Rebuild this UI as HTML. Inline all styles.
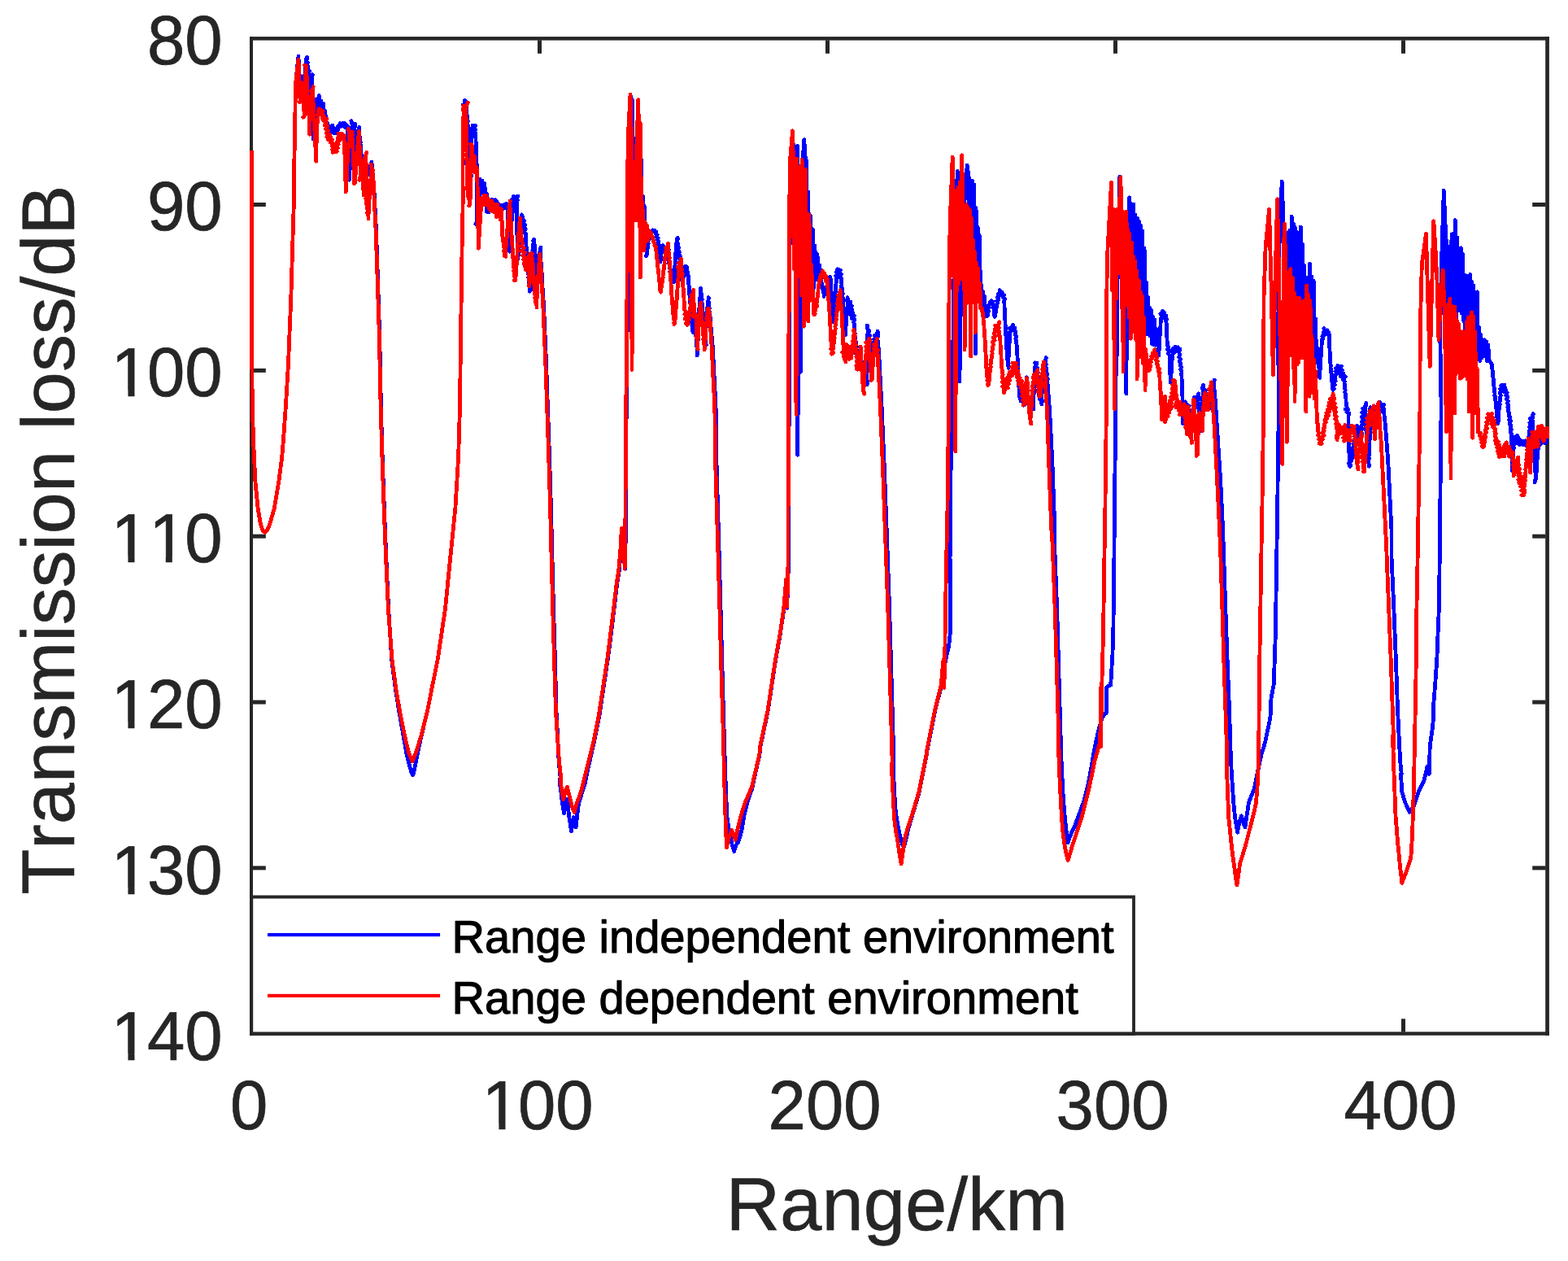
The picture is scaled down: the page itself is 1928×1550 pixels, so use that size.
<!DOCTYPE html>
<html lang="en">
<head>
<meta charset="utf-8">
<title>Transmission loss vs range</title>
<style>
html,body{margin:0;padding:0;background:#fff;overflow:hidden}
body{width:1928px;height:1550px}
svg{display:block}
text{font-family:"Liberation Sans",Arial,Helvetica,sans-serif;font-kerning:none;text-rendering:geometricPrecision}
.tick{font-size:83.3px;fill:#262626;stroke:#262626;stroke-width:0.7px}
.lab{font-size:92.3px;fill:#262626;stroke:#262626;stroke-width:0.6px}
.leg{font-size:56.1px;fill:#000;stroke:#000;stroke-width:1.1px;stroke-linejoin:round}
.ax{stroke:#262626;stroke-width:4.2;fill:none;shape-rendering:crispEdges}
.cv{fill:none;stroke-width:4.8;stroke-linejoin:round;stroke-linecap:butt;shape-rendering:crispEdges}
</style>
</head>
<body>
<svg width="1928" height="1550" viewBox="0 0 1928 1550">
<rect width="1928" height="1550" fill="#fff"/>
<!-- axes box -->
<g fill="#262626" id="axes">
<rect x="307" y="45.1" width="4" height="1227.6"/>
<rect x="1900.2" y="45.1" width="4.7" height="1227.6"/>
<rect x="307" y="45.1" width="1597.9" height="4.5"/>
<rect x="307" y="1268.3" width="1597.9" height="4.4"/>
</g>
<!-- ticks -->
<g fill="#262626" id="ticks">
<rect x="661.0" y="1252.3" width="5" height="16.2"/><rect x="1015.0" y="1252.3" width="5" height="16.2"/><rect x="1369.0" y="1252.3" width="5" height="16.2"/><rect x="1723.0" y="1252.3" width="5" height="16.2"/>
<rect x="661.0" y="49.4" width="5" height="16.4"/><rect x="1015.0" y="49.4" width="5" height="16.4"/><rect x="1369.0" y="49.4" width="5" height="16.4"/><rect x="1723.0" y="49.4" width="5" height="16.4"/>
<rect x="310.8" y="249.0" width="16" height="5"/><rect x="310.8" y="452.9" width="16" height="5"/><rect x="310.8" y="656.7" width="16" height="5"/><rect x="310.8" y="860.6" width="16" height="5"/><rect x="310.8" y="1064.4" width="16" height="5"/>
<rect x="1884.2" y="249.0" width="16.2" height="5"/><rect x="1884.2" y="452.9" width="16.2" height="5"/><rect x="1884.2" y="656.7" width="16.2" height="5"/><rect x="1884.2" y="860.6" width="16.2" height="5"/><rect x="1884.2" y="1064.4" width="16.2" height="5"/>
</g>
<!--CURVES-->
<g class="cv">
<path id="blue" stroke="#0000ff" d="M309.4 185.0L309.5 300.0L309.8 440.0L310.3 500.0L311.8 546.7L314.0 593.4L317.1 624.5L320.2 643.2L323.0 651.9L325.8 654.4L328.9 651.2L332.1 643.2L337.3 624.5L342.6 593.4L346.7 562.2L349.2 531.1L351.3 500.0L354.4 449.4L357.8 366.2L360.3 283.1L361.9 231.2L361.8 201.9L362.5 164.5L363.1 127.2L363.8 99.8L367.0 68.9L367.1 72.8L367.3 75.8L367.4 78.7L367.7 81.7L367.8 84.6L368.0 87.5L368.1 90.5L368.3 93.4L368.4 96.4L368.6 99.3L367.9 102.9L368.0 99.9L370.7 98.1L368.8 95.5L371.0 94.5L372.7 93.7L371.2 96.4L372.7 98.7L372.5 101.4L373.3 104.0L373.1 106.7L373.9 109.3L373.5 112.1L373.5 114.0L374.3 111.7L374.4 108.7L374.6 105.6L374.7 102.6L375.0 99.6L375.1 96.5L375.3 93.5L375.4 90.5L375.6 87.4L375.7 84.4L376.0 81.4L376.1 78.4L376.3 75.3L376.4 72.3L377.3 70.2L377.7 71.8L376.4 74.6L378.4 77.0L377.0 79.9L379.1 82.2L377.8 85.1L380.5 87.2L379.8 90.3L379.9 93.2L380.0 96.2L380.1 99.1L380.1 102.0L380.3 105.0L380.3 107.9L380.4 110.9L380.5 113.8L380.6 116.8L380.9 121.2L380.8 116.7L381.4 113.7L381.3 110.7L381.8 107.8L381.6 104.7L383.2 102.1L382.0 99.1L383.9 96.5L384.2 91.6L383.6 96.6L383.8 99.6L383.9 102.6L384.2 105.6L384.3 108.7L384.5 111.7L384.7 114.7L384.8 117.8L384.8 120.8L384.9 123.9L384.9 126.9L385.0 129.9L385.0 133.0L385.1 136.0L385.1 139.1L385.2 142.1L385.2 145.2L385.3 148.2L385.3 151.2L385.4 154.3L385.4 157.3L385.5 160.4L385.5 163.4L385.7 166.5L385.3 170.8L385.8 166.5L386.0 163.5L386.1 160.5L386.3 157.6L386.4 154.6L386.6 151.6L386.7 148.6L386.9 145.6L387.0 142.6L387.2 141.4L388.2 145.6L389.4 121.7L390.9 132.6L392.3 117.3L393.5 130.1L394.9 124.1L396.2 134.2L397.5 127.2L398.6 140.3L399.8 136.5L401.1 154.9L402.6 151.0L405.9 164.8L406.4 163.3L406.2 160.8L406.8 158.3L406.5 155.8L408.4 154.5L409.1 154.3L406.6 157.1L410.3 157.5L407.8 160.4L411.9 160.5L410.3 163.3L412.5 163.0L414.1 164.1L412.1 161.4L415.2 160.7L413.0 158.2L416.2 157.6L415.1 155.3L417.7 156.2L416.9 153.6L419.2 154.8L418.2 151.8L420.9 154.3L421.0 151.6L422.6 153.9L423.7 151.2L422.8 154.4L426.3 153.7L424.8 156.8L428.7 156.6L427.1 160.0L427.3 162.9L427.3 165.9L427.5 168.8L427.6 171.8L427.7 174.7L427.8 177.7L428.0 180.6L428.0 183.6L428.2 186.5L428.2 189.4L428.4 192.5L428.5 195.6L428.6 198.6L428.7 201.7L428.9 204.7L428.9 207.8L429.1 210.8L429.2 213.9L429.3 216.9L429.4 220.0L429.4 221.3L429.7 220.0L429.7 216.9L429.9 213.8L430.0 210.8L430.2 207.7L430.2 204.6L430.4 201.6L430.5 198.5L430.6 195.4L430.7 192.3L430.9 189.3L431.0 186.2L431.2 183.1L431.2 180.1L431.4 177.0L431.5 173.9L432.0 170.9L432.0 167.8L432.4 164.8L432.4 161.8L432.9 158.7L432.9 155.7L433.4 152.6L431.8 148.7L432.7 151.7L436.5 152.3L433.1 155.4L436.7 155.3L435.2 157.3L436.4 160.0L436.5 162.9L436.6 165.9L436.6 168.8L436.7 171.8L436.7 174.7L436.8 177.7L436.8 180.6L436.9 183.6L436.9 186.5L437.8 188.5L437.6 186.8L437.3 184.1L438.1 181.5L437.8 178.7L438.5 176.1L438.2 173.4L439.5 170.8L437.7 167.8L441.2 165.8L439.1 162.7L442.1 160.5L441.6 156.5L441.2 160.5L442.0 163.2L441.8 166.0L442.7 168.7L442.4 171.5L443.2 174.2L443.1 177.0L443.4 179.7L443.5 182.3L443.8 185.0L443.9 187.7L444.2 190.3L444.2 193.0L444.5 195.7L444.6 198.3L444.9 201.0L444.9 203.7L445.2 206.3L445.3 209.0L445.6 211.7L445.1 216.1L445.3 211.7L447.6 209.5L446.3 206.8L448.3 204.6L446.1 201.6L449.4 200.2L447.9 197.5L448.8 196.6L450.1 198.3L449.6 201.0L450.5 203.6L450.3 206.4L451.0 209.0L450.7 211.7L452.2 213.8L453.0 214.4L452.3 212.0L454.9 212.3L453.0 209.1L456.5 207.2L454.6 204.1L457.3 203.0L456.9 199.3L459.0 220.8L460.4 241.6L462.5 283.1L464.6 345.5L466.6 407.8L467.9 470.1L468.4 500.0L470.2 562.2L472.4 624.5L474.9 686.7L477.7 749.0L481.7 811.2L486.1 845.4L490.5 873.4L496.1 904.6L499.8 926.4L503.8 941.9L506.0 949.7L507.6 952.8L509.1 948.1L511.6 935.7L514.7 920.1L517.8 906.1L525.6 873.4L531.8 842.3L538.1 811.2L547.4 749.0L553.6 686.7L559.9 624.5L563.6 562.2L565.5 500.0L566.6 407.8L568.1 303.9L569.5 231.2L568.9 227.5L568.9 226.9L568.9 223.8L569.0 220.8L568.9 217.8L569.0 214.8L569.0 211.8L569.1 208.7L569.0 205.7L569.1 202.7L569.1 199.7L569.1 196.7L569.1 193.7L569.2 190.6L569.1 187.6L569.2 184.6L569.2 181.6L569.2 178.6L569.2 175.5L569.3 172.5L569.2 169.5L569.3 166.5L569.4 163.6L569.5 160.6L569.5 157.7L569.6 154.8L569.7 151.9L569.8 148.9L569.8 146.0L569.9 143.1L569.9 140.1L570.1 137.2L569.8 134.3L571.7 132.1L569.0 129.1L572.6 127.3L571.0 124.5L571.5 123.4L573.0 125.4L572.9 128.4L573.6 131.4L573.4 134.5L574.0 137.5L573.9 140.6L574.5 143.6L574.0 146.3L575.3 148.8L574.8 151.5L575.4 154.0L575.3 157.1L575.4 160.1L575.4 163.1L575.5 166.2L575.5 169.2L575.6 172.2L575.6 175.3L575.7 178.3L575.7 181.4L575.7 184.4L575.7 187.4L575.8 190.5L575.8 193.5L576.2 196.1L576.1 198.7L576.5 201.3L576.0 203.9L577.4 206.4L576.2 209.2L578.2 211.6L579.6 216.3L578.0 211.3L578.2 208.4L578.2 205.4L578.4 202.4L578.4 199.4L578.6 196.5L578.7 193.5L578.8 190.5L578.9 187.6L579.1 184.6L579.1 181.6L579.3 178.7L579.3 175.7L579.6 172.7L579.3 169.8L580.4 166.9L580.1 164.0L581.2 161.1L580.1 158.0L582.6 156.6L581.0 154.1L581.5 154.4L584.6 154.6L582.2 157.4L584.4 159.5L583.2 162.2L585.0 164.4L584.5 167.1L584.9 169.8L584.9 172.4L585.2 175.1L585.3 177.8L585.6 180.4L585.7 183.1L585.8 186.1L585.8 189.1L585.9 192.0L585.9 195.0L586.0 198.0L586.1 200.9L586.2 203.9L586.1 207.0L586.2 210.1L586.2 213.2L586.2 216.4L586.2 219.5L586.3 222.6L586.2 225.7L586.3 228.8L586.3 231.9L586.4 235.1L586.3 238.1L586.4 241.0L586.3 244.0L586.4 247.0L586.3 250.0L586.4 253.0L586.3 256.0L586.4 259.0L586.3 261.9L586.4 264.9L586.3 267.9L586.4 270.9L586.3 273.9L585.0 275.3L586.4 273.8L586.5 270.8L586.6 267.7L586.6 264.7L586.8 261.6L586.8 258.6L586.9 255.5L586.9 252.5L587.1 249.4L587.1 246.4L587.2 243.3L587.2 240.3L587.9 237.7L587.6 235.0L588.5 232.5L588.3 227.8L588.9 244.9L590.3 220.3L591.6 234.3L593.0 222.3L594.3 238.3L595.6 225.3L597.1 239.3L598.5 238.0L598.2 259.9L600.9 261.1L598.0 257.8L601.7 256.9L599.1 253.7L604.4 253.5L600.9 249.9L605.6 249.8L603.2 247.0L606.2 248.6L605.3 245.0L605.6 248.8L608.6 245.7L606.9 250.2L610.5 247.2L607.8 251.2L612.0 249.6L610.4 252.5L613.5 251.4L612.0 255.4L615.6 252.2L615.1 256.0L615.8 253.1L617.6 255.8L617.5 252.2L619.7 256.2L619.5 251.9L621.4 254.2L622.5 250.1L621.3 255.4L625.3 252.2L623.7 255.0L624.6 257.6L624.4 260.3L624.4 263.1L624.2 265.8L624.2 268.6L624.3 271.6L624.6 274.6L624.7 277.7L625.0 280.7L625.1 283.8L625.4 286.8L625.4 289.8L625.7 292.9L625.8 295.9L626.2 298.9L626.2 302.0L626.5 305.0L626.6 309.3L626.8 305.0L627.2 302.0L627.2 298.9L627.6 295.9L627.6 292.9L628.0 289.8L628.0 286.8L628.4 283.8L628.4 280.7L628.9 277.7L628.8 274.6L629.2 271.6L629.1 268.6L630.0 265.7L629.6 262.8L630.5 259.9L630.2 257.0L631.0 254.2L630.7 251.2L631.5 248.4L629.6 245.1L634.6 244.7L631.3 241.4L633.5 242.5L636.7 241.0L633.7 244.2L636.3 245.4L635.6 248.6L635.6 251.7L635.6 254.9L635.6 258.0L635.6 261.1L635.6 264.3L635.6 267.4L635.6 270.6L635.6 273.7L635.6 276.8L635.6 280.0L635.6 283.1L635.7 286.1L635.9 289.2L635.9 292.2L636.2 295.2L636.2 298.2L636.4 301.3L636.5 304.3L636.7 307.3L636.7 310.3L636.9 313.3L637.0 318.3L637.2 313.3L637.7 310.3L637.6 307.3L638.2 304.3L638.0 301.2L638.7 298.2L638.5 295.2L639.2 292.2L639.0 289.1L639.6 286.1L639.1 283.0L641.5 280.6L639.7 277.4L642.4 275.0L640.8 271.9L643.1 269.4L641.6 263.9L641.4 269.2L644.5 271.3L642.0 274.2L645.6 276.2L643.2 279.2L646.2 281.5L643.7 284.8L646.7 287.2L646.1 290.2L646.5 293.1L646.5 296.0L646.9 298.9L646.9 301.8L647.3 304.7L647.3 307.6L647.7 310.5L647.7 313.5L648.2 316.4L648.1 319.1L648.8 321.9L648.5 324.7L649.1 327.4L649.0 330.2L649.7 333.0L649.4 335.8L650.1 338.5L649.7 341.3L651.1 343.9L650.3 346.7L651.5 349.3L650.8 352.0L651.9 354.6L651.3 357.4L651.2 358.2L652.4 357.1L652.5 354.2L652.7 351.3L652.7 348.4L652.9 345.5L653.0 342.5L653.2 339.6L653.3 336.7L653.5 333.8L653.6 330.9L653.8 328.0L653.8 325.1L654.0 322.2L654.1 319.3L654.4 316.4L654.3 313.4L655.1 310.4L654.9 307.4L655.5 304.4L655.3 301.4L656.0 298.5L655.8 295.4L656.4 294.3L656.8 295.4L656.7 298.5L657.4 301.4L657.2 304.4L657.8 307.4L657.8 310.4L658.3 313.4L658.3 316.4L658.7 319.4L658.7 322.4L659.1 325.4L659.1 328.5L659.5 331.5L659.5 334.5L659.8 337.5L659.9 340.5L660.2 343.6L660.3 346.6L661.5 348.1L661.0 346.9L660.8 344.1L661.5 341.3L661.2 338.5L661.8 335.8L661.6 333.0L662.4 330.2L662.1 327.4L662.8 324.7L662.6 322.0L663.2 319.3L663.1 316.6L663.6 314.0L663.4 311.3L664.0 308.7L665.1 303.9L664.1 308.9L664.5 311.7L664.6 314.6L664.9 317.5L664.9 320.4L665.3 323.2L665.3 326.1L665.7 329.0L665.7 331.9L666.1 334.7L666.1 337.6L666.4 340.5L666.5 344.8L668.6 376.6L671.7 449.4L674.2 522.1L675.6 562.2L677.5 624.5L679.0 686.7L680.6 749.0L682.5 811.2L684.0 873.4L685.6 904.6L687.1 935.7L689.0 954.4L688.6 964.0L690.2 976.5L691.7 988.9L693.6 999.8L695.5 988.9L697.3 982.7L699.8 1004.5L702.6 1021.6L704.2 1010.7L705.1 1004.5L706.7 1012.3L708.2 1016.9L709.8 1001.4L711.3 988.9L715.4 974.9L719.1 964.0L723.2 943.8L730.6 911.1L736.9 880.0L742.5 842.3L747.2 811.2L751.2 780.1L755.0 749.0L758.7 717.8L761.2 702.3L763.4 677.4L764.9 649.4L766.2 686.7L767.4 655.6L768.7 699.2L769.6 630.7L769.9 562.2L770.2 500.0L770.8 467.8L771.6 322.3L771.9 224.5L772.7 170.0L775.5 118.7L777.3 123.3L778.3 177.8L778.6 266.4L779.8 181.4L780.9 269.5L782.1 177.2L783.2 260.7L784.2 140.6L785.2 259.1L786.1 161.7L787.1 278.0L788.0 187.0L789.2 272.5L790.4 240.8L791.4 284.9L792.3 253.4L793.7 288.0L793.9 291.1L794.2 293.9L794.3 296.7L794.6 299.5L794.8 302.3L794.9 305.4L795.0 308.5L795.1 311.6L794.6 315.1L795.4 312.2L795.7 309.8L795.8 307.3L796.2 304.8L796.1 302.3L797.2 299.6L796.8 296.8L797.7 294.1L797.4 291.3L799.0 289.8L798.5 287.6L800.5 286.3L800.3 284.1L802.1 284.6L802.5 282.8L803.7 283.4L804.9 283.3L804.7 285.1L806.7 284.8L806.0 287.3L808.1 288.7L807.0 291.1L809.1 292.5L808.5 294.7L809.9 296.9L809.6 299.5L810.5 301.9L810.2 304.5L811.0 306.9L810.8 309.8L811.6 312.5L811.4 315.4L812.2 318.1L811.8 321.9L812.5 318.5L812.9 316.0L812.9 313.5L813.3 311.0L813.2 308.5L814.3 306.0L813.5 303.2L815.1 301.7L816.0 302.6L815.6 305.1L817.8 306.4L817.8 308.4L819.3 306.2L819.8 308.6L822.3 307.3L820.9 310.8L822.3 313.7L821.6 316.8L823.0 319.6L822.3 322.7L823.6 325.5L823.0 328.6L824.5 331.2L823.8 334.0L825.5 336.5L824.5 339.3L826.3 341.8L825.3 344.7L826.7 346.8L828.5 346.8L827.0 343.8L829.6 343.3L829.1 340.3L829.3 337.5L829.4 334.6L829.6 331.8L829.7 328.9L829.9 326.1L830.0 323.3L830.2 320.5L830.3 317.6L830.5 314.8L830.5 311.9L831.1 309.0L830.9 306.0L831.7 303.1L831.5 300.1L832.1 297.1L832.1 294.1L833.2 292.5L833.3 293.8L832.6 296.6L833.6 299.2L833.1 301.9L834.4 304.5L833.9 307.2L835.4 309.8L834.1 312.5L836.4 314.7L835.2 317.4L836.8 319.7L835.9 322.4L837.0 325.1L836.9 327.9L837.5 330.6L837.4 333.4L837.9 336.2L837.8 339.0L838.4 341.7L838.3 344.5L839.1 346.2L839.9 344.9L838.9 342.2L841.1 340.0L839.0 337.1L842.3 335.2L840.0 332.1L843.4 331.1L841.2 327.8L843.4 327.4L845.0 329.2L843.8 332.2L846.1 334.7L844.9 337.7L846.9 340.2L846.1 343.2L846.7 346.1L846.7 349.1L847.2 352.0L847.2 355.0L847.7 357.9L847.6 360.9L848.2 363.9L848.1 366.7L848.7 369.4L848.6 372.2L849.2 375.0L849.0 377.8L849.6 380.5L849.6 383.3L850.0 386.0L849.9 388.9L850.6 391.8L850.5 394.8L851.2 397.7L850.9 400.7L851.9 403.6L851.6 406.7L852.6 408.6L852.8 406.9L852.3 404.0L853.4 401.3L852.9 398.5L853.8 395.8L853.0 391.2L853.6 395.6L854.9 397.9L854.3 400.5L855.7 402.9L855.1 405.5L855.6 408.5L855.7 411.5L856.0 414.5L856.1 417.5L856.4 420.5L856.5 423.5L856.9 426.5L856.9 429.6L857.3 432.6L857.3 436.8L857.5 432.6L857.7 429.6L857.8 426.6L857.9 423.6L858.0 420.6L858.2 417.6L858.2 414.6L858.4 411.6L858.5 408.6L858.6 405.6L858.7 402.6L858.9 399.6L859.0 396.7L859.1 393.7L859.2 390.7L859.4 387.7L859.5 384.7L859.7 381.8L859.8 379.0L860.1 376.2L860.2 373.3L860.5 370.5L860.5 367.7L860.9 364.8L860.9 362.0L861.3 359.2L861.3 356.3L861.5 354.5L862.1 356.3L861.9 359.2L862.5 362.1L862.4 365.0L863.2 367.8L862.8 370.7L863.5 373.5L863.4 376.4L864.0 379.3L864.0 382.2L864.3 385.1L864.4 388.0L864.8 390.9L864.8 393.8L865.2 396.7L865.2 399.6L865.6 402.5L865.6 405.5L866.2 408.2L866.0 411.0L866.6 413.8L866.6 416.5L867.1 419.3L868.3 423.9L867.3 419.1L867.5 416.0L867.6 413.0L867.8 410.0L867.9 407.0L868.1 403.9L868.2 400.9L868.4 397.9L868.5 394.9L868.7 391.9L868.8 388.8L869.4 386.1L869.0 383.3L869.8 380.7L869.7 377.9L870.3 375.2L870.2 372.4L870.8 369.8L871.3 365.5L870.9 369.9L871.8 372.7L871.6 375.7L872.2 378.5L872.0 381.5L872.8 384.3L872.7 387.2L873.4 390.1L873.4 394.8L876.3 426.2L878.4 467.8L880.1 499.8L881.2 577.8L883.7 661.8L886.1 749.0L888.6 842.3L890.8 920.1L890.6 911.1L891.5 942.2L892.8 979.6L894.0 1004.5L895.9 1016.9L898.1 1029.4L900.3 1038.7L902.7 1046.5L904.9 1038.7L907.4 1035.6L909.6 1029.4L912.1 1020.0L915.2 1001.4L919.9 982.7L924.5 970.2L929.2 948.5L933.9 928.2L934.7 918.6L944.0 875.0L948.7 843.9L953.4 812.8L959.0 781.6L963.6 750.5L965.2 731.8L966.7 713.2L967.7 747.4L969.2 702.3L969.9 593.4L970.2 500.0L970.2 426.2L971.1 322.3L971.2 240.0L972.2 193.4L974.5 162.2L976.5 208.9L978.8 196.5L980.4 179.4L981.2 240.0L980.6 559.2L984.0 240.0L984.4 457.4L986.6 208.9L988.7 171.6L990.2 193.4L991.3 196.5L992.0 312.9L993.8 235.7L995.0 334.7L996.5 265.5L997.8 352.5L999.2 281.7L1000.7 353.8L1001.9 302.2L1003.4 344.0L1005.0 312.7L1006.3 340.5L1007.8 326.0L1009.4 345.7L1010.1 346.7L1010.3 349.7L1011.5 351.9L1011.1 354.5L1012.4 356.7L1011.9 359.2L1013.4 361.4L1013.1 364.4L1013.1 361.5L1015.2 359.9L1015.2 357.5L1017.1 355.8L1016.1 353.0L1017.9 350.7L1016.9 348.0L1018.4 345.7L1017.9 342.9L1019.8 342.5L1019.6 340.6L1020.4 340.3L1021.2 343.0L1021.3 346.0L1021.6 349.0L1021.7 352.0L1022.0 354.9L1022.1 357.9L1022.4 360.9L1022.6 363.9L1022.8 366.9L1022.9 369.9L1023.1 373.0L1023.2 376.0L1023.4 379.0L1023.5 382.0L1023.7 385.1L1023.8 388.1L1024.0 391.1L1024.1 394.1L1024.6 396.0L1024.6 394.2L1024.6 391.3L1025.0 388.4L1025.0 385.5L1025.4 382.6L1025.4 379.7L1025.8 376.8L1025.8 373.9L1026.2 371.0L1026.2 368.0L1026.8 365.2L1026.7 362.2L1027.2 359.3L1027.1 356.4L1027.8 353.5L1027.6 350.6L1028.2 347.7L1028.2 344.8L1028.8 341.9L1027.7 338.8L1031.0 337.6L1028.4 334.7L1032.7 334.0L1029.6 330.9L1030.8 331.0L1033.3 332.2L1031.7 335.2L1034.3 337.5L1032.6 340.6L1034.9 343.0L1034.0 346.1L1035.1 349.0L1034.4 352.1L1035.6 354.9L1035.2 358.0L1036.2 360.9L1036.0 363.9L1036.3 366.8L1036.4 369.7L1036.6 372.6L1036.7 375.5L1036.9 378.4L1037.0 381.4L1037.2 384.3L1037.2 387.2L1037.4 390.1L1037.5 393.0L1038.0 395.9L1037.9 398.9L1038.4 401.9L1038.3 404.9L1038.9 407.8L1038.8 410.8L1039.5 412.0L1039.6 410.9L1039.5 407.9L1040.0 405.0L1040.0 402.1L1040.4 399.2L1040.4 396.3L1040.8 393.4L1040.8 390.5L1041.2 387.6L1041.1 384.7L1042.0 381.8L1041.4 378.7L1042.5 375.9L1042.0 372.9L1042.9 370.0L1042.1 365.7L1041.5 369.9L1045.9 371.2L1042.5 374.6L1047.2 375.9L1043.6 379.0L1047.5 380.3L1044.7 383.2L1048.9 384.3L1046.0 387.3L1050.4 388.4L1047.2 391.4L1050.7 392.8L1049.6 395.8L1050.3 398.5L1050.1 401.3L1050.8 404.0L1050.6 406.9L1051.2 409.6L1051.0 412.4L1051.7 415.1L1051.3 418.0L1053.0 420.7L1051.3 423.9L1053.6 426.5L1052.2 429.7L1055.3 432.2L1052.6 435.1L1056.4 436.2L1053.5 439.3L1057.5 440.4L1055.3 443.5L1058.7 443.1L1056.9 446.1L1060.2 445.2L1058.2 447.7L1062.4 449.1L1060.1 452.3L1063.0 454.2L1060.9 457.4L1065.3 459.0L1062.3 462.2L1065.3 464.2L1063.4 467.1L1066.3 469.2L1066.1 472.8L1065.2 468.9L1065.4 465.9L1065.4 462.8L1065.5 459.8L1065.5 456.7L1065.6 453.7L1065.6 450.6L1065.8 447.6L1065.8 444.5L1065.9 441.5L1065.9 438.4L1066.1 435.4L1066.1 432.3L1066.2 429.3L1066.2 426.2L1066.4 423.1L1066.5 420.0L1066.7 416.9L1066.7 413.8L1066.9 410.7L1067.0 407.5L1067.2 404.4L1066.4 400.1L1066.8 404.2L1068.7 406.7L1067.5 409.7L1069.6 412.3L1068.4 415.2L1070.0 417.8L1068.8 420.5L1070.5 422.8L1069.8 425.5L1071.1 427.8L1069.4 430.6L1073.2 432.0L1070.1 435.0L1071.9 435.0L1074.1 434.4L1071.5 431.5L1075.2 429.6L1072.5 426.6L1075.4 424.6L1073.3 421.7L1076.7 420.1L1074.8 417.3L1078.6 415.8L1075.1 412.6L1079.6 411.3L1079.2 407.0L1078.3 411.3L1079.2 414.0L1078.7 416.8L1079.5 419.5L1079.1 422.2L1080.0 424.9L1079.9 427.7L1080.4 428.6L1082.4 467.8L1084.1 499.8L1087.5 577.8L1090.6 661.8L1093.7 749.0L1096.8 857.9L1099.0 935.7L1098.2 942.2L1099.7 973.4L1101.3 998.3L1103.8 1013.8L1106.3 1026.3L1108.8 1035.6L1111.2 1041.8L1113.7 1032.5L1116.9 1018.5L1120.6 1006.0L1125.3 990.5L1129.9 974.9L1134.6 951.6L1139.3 928.2L1140.1 921.7L1149.4 875.0L1154.1 856.3L1157.2 843.9L1160.3 823.7L1163.4 808.1L1166.5 795.6L1168.1 780.1L1168.1 686.7L1168.7 593.4L1171.2 500.0L1171.6 462.3L1172.2 377.8L1174.3 273.9L1177.4 210.5L1178.6 315.5L1179.9 469.2L1181.6 357.0L1183.6 294.7L1186.8 232.3L1189.2 203.2L1191.5 219.9L1192.0 360.0L1193.3 241.5L1194.3 337.3L1195.4 222.1L1196.7 365.6L1197.7 226.8L1199.6 434.9L1200.1 255.6L1201.2 347.7L1202.3 279.3L1203.3 367.9L1204.4 289.4L1205.7 367.9L1206.6 350.2L1207.7 382.4L1208.6 358.5L1209.5 382.1L1210.6 364.3L1211.9 389.0L1213.8 388.7L1214.7 387.0L1214.1 384.6L1215.5 382.4L1214.8 380.0L1216.3 377.9L1215.7 375.4L1217.9 373.8L1217.5 371.4L1219.2 371.5L1218.9 369.8L1219.2 370.1L1221.1 371.4L1220.4 373.7L1222.1 375.5L1221.3 377.9L1222.3 380.2L1222.1 382.8L1222.7 385.2L1222.5 387.8L1223.1 389.6L1224.0 387.8L1223.6 385.2L1225.0 382.9L1224.0 380.2L1225.7 377.9L1224.9 375.2L1226.7 372.9L1225.7 370.2L1227.8 368.0L1226.4 365.1L1228.7 363.8L1227.6 361.4L1230.3 360.3L1229.1 356.7L1229.5 360.1L1232.2 359.5L1231.8 361.5L1234.6 362.8L1233.1 365.6L1235.4 367.3L1234.7 370.4L1234.9 373.3L1235.0 376.3L1235.2 379.3L1235.3 382.2L1235.5 385.2L1235.6 388.2L1235.8 391.1L1235.9 394.1L1236.0 397.1L1236.2 400.1L1236.4 403.0L1236.5 406.0L1236.6 409.0L1236.8 411.8L1237.1 414.7L1237.1 417.5L1237.4 420.4L1237.5 423.3L1237.8 426.1L1237.8 429.0L1238.1 431.8L1238.2 434.5L1238.5 437.2L1238.6 439.8L1238.9 442.5L1238.9 445.2L1239.2 447.8L1240.2 452.3L1239.5 447.7L1239.7 444.8L1239.8 441.9L1240.1 439.1L1240.1 436.2L1240.5 433.4L1240.5 430.5L1240.8 427.7L1240.9 425.0L1241.1 422.3L1241.2 419.6L1241.4 417.0L1241.5 414.3L1241.7 411.6L1241.3 408.9L1243.5 406.4L1241.3 403.2L1245.1 401.8L1245.6 399.6L1243.3 403.7L1246.4 401.7L1245.1 405.0L1248.1 403.0L1246.3 405.4L1248.9 407.7L1248.0 410.7L1249.6 413.5L1248.8 416.5L1249.9 419.3L1249.8 422.3L1250.2 425.3L1250.3 428.3L1250.7 431.2L1250.6 434.2L1251.0 437.2L1251.1 440.1L1251.3 443.1L1251.4 446.1L1251.6 449.0L1251.7 452.0L1251.9 455.0L1252.0 457.9L1252.2 460.9L1252.3 463.9L1252.5 466.8L1252.6 469.8L1252.8 472.8L1252.9 475.8L1253.1 478.7L1253.1 481.7L1254.1 484.1L1253.2 486.6L1254.4 489.0L1255.2 493.1L1254.2 488.6L1255.5 485.9L1254.9 483.1L1256.7 480.5L1255.3 477.5L1256.4 476.6L1257.6 477.5L1256.5 480.4L1257.9 483.1L1257.3 485.9L1258.6 488.6L1257.9 491.5L1259.3 494.1L1258.4 497.1L1258.9 498.1L1260.0 496.8L1259.8 493.8L1260.4 490.9L1260.2 487.9L1260.9 484.9L1260.7 481.9L1261.3 479.0L1261.1 476.2L1261.9 473.4L1261.7 470.6L1262.3 467.9L1262.1 465.1L1262.4 463.9L1262.9 465.2L1262.9 468.0L1263.3 470.8L1263.3 473.7L1263.6 476.5L1263.7 479.3L1264.0 482.2L1264.0 485.0L1264.4 487.8L1264.4 490.7L1264.9 493.5L1264.6 496.4L1265.5 499.2L1265.1 502.1L1266.0 504.9L1265.8 507.8L1266.5 510.6L1266.2 513.5L1266.5 514.3L1267.1 513.5L1267.0 510.5L1267.5 507.6L1267.4 504.7L1267.9 501.8L1267.9 498.9L1268.3 496.0L1268.3 493.1L1268.7 490.2L1268.8 486.0L1268.5 490.3L1269.8 493.1L1269.3 496.1L1270.6 498.9L1270.9 503.1L1270.6 498.8L1270.8 495.7L1270.8 492.7L1271.0 489.7L1271.0 486.6L1271.2 483.6L1271.2 480.6L1271.4 477.5L1271.5 474.5L1271.6 471.4L1271.7 468.4L1271.9 465.4L1271.9 462.3L1272.3 459.7L1272.3 457.0L1272.8 454.3L1272.6 451.6L1273.2 449.0L1273.0 446.3L1272.5 445.9L1275.1 446.4L1273.1 449.6L1275.6 452.2L1274.0 455.4L1276.3 458.1L1275.5 461.2L1276.5 464.1L1276.1 467.1L1277.1 470.0L1276.7 473.0L1277.7 475.9L1276.8 479.1L1279.3 481.5L1277.1 484.7L1280.1 487.1L1278.3 490.2L1281.4 492.6L1280.9 497.1L1280.4 492.6L1280.7 489.5L1280.8 486.5L1281.1 483.5L1281.1 480.5L1281.5 477.5L1281.5 474.4L1281.9 471.4L1281.9 468.4L1282.2 465.4L1281.9 462.3L1283.3 459.8L1282.0 457.0L1284.0 454.6L1282.8 451.8L1284.6 449.4L1283.9 446.7L1285.5 444.3L1286.3 439.5L1285.0 444.6L1286.3 447.5L1285.7 450.6L1287.0 453.5L1286.2 456.6L1287.5 459.5L1286.9 462.6L1288.2 465.5L1287.9 469.8L1290.6 503.9L1293.8 566.2L1296.9 649.4L1296.6 668.1L1299.7 749.0L1302.8 857.9L1305.0 935.7L1303.8 904.9L1305.4 942.2L1306.9 973.4L1308.5 995.1L1310.0 1010.7L1311.6 1026.3L1313.1 1035.6L1315.3 1029.4L1317.8 1023.2L1320.9 1016.9L1325.6 1004.5L1330.2 992.0L1333.4 982.7L1338.0 964.0L1342.1 942.2L1345.8 920.5L1350.5 898.7L1353.3 889.0L1354.8 882.8L1357.9 878.1L1360.1 876.6L1360.1 845.4L1363.2 842.9L1365.7 842.3L1366.6 826.8L1367.9 805.0L1368.8 780.1L1369.8 702.3L1370.4 624.5L1371.9 500.0L1372.1 462.3L1373.1 440.1L1374.4 315.5L1376.9 216.8L1379.0 273.9L1381.0 336.2L1383.1 419.4L1384.8 483.8L1385.8 357.0L1387.3 273.9L1388.7 242.7L1390.4 263.5L1390.5 370.3L1391.7 272.0L1392.7 398.1L1393.9 250.9L1394.9 363.3L1395.9 263.9L1397.0 402.5L1398.3 268.0L1399.2 370.2L1400.4 272.0L1401.6 364.2L1402.5 277.5L1403.6 402.8L1404.8 283.9L1406.0 389.8L1407.1 305.4L1408.1 410.7L1409.3 346.7L1410.5 410.8L1411.5 364.7L1412.5 406.8L1413.5 377.7L1414.3 413.1L1415.4 380.7L1416.4 422.6L1417.5 389.2L1418.5 423.9L1419.8 392.8L1420.8 424.3L1421.6 406.5L1422.7 406.6L1422.3 404.9L1422.8 405.1L1423.7 407.8L1423.8 410.9L1423.9 413.9L1424.0 416.9L1424.1 419.9L1424.2 422.9L1424.3 426.0L1424.4 429.0L1424.5 432.0L1424.6 435.0L1425.1 437.1L1424.9 435.1L1425.0 432.2L1425.2 429.3L1425.3 426.4L1425.5 423.5L1425.6 420.6L1425.9 417.7L1426.0 414.8L1426.2 411.9L1426.3 409.0L1426.6 406.0L1426.7 403.0L1427.0 400.1L1427.1 397.1L1427.4 394.1L1427.5 391.1L1428.9 388.4L1426.9 385.8L1429.9 385.0L1429.5 382.3L1429.9 384.5L1432.0 384.6L1430.5 386.7L1433.8 387.9L1431.5 390.6L1434.6 392.1L1433.7 394.5L1434.2 397.5L1434.3 400.7L1434.4 403.8L1434.5 406.9L1434.7 410.0L1434.8 413.1L1435.0 416.2L1434.9 419.4L1435.9 421.8L1435.3 424.4L1436.7 426.7L1435.5 429.4L1438.0 431.6L1436.5 434.7L1438.4 437.2L1438.0 440.2L1438.3 443.0L1438.4 445.9L1438.5 448.9L1438.6 451.8L1438.7 454.7L1438.8 457.6L1438.9 460.5L1439.0 463.4L1439.1 466.3L1439.1 470.2L1439.3 466.4L1439.8 463.5L1439.7 460.6L1440.2 457.8L1440.2 454.9L1440.6 452.1L1440.5 449.2L1441.0 446.4L1440.8 443.4L1441.8 440.6L1441.4 437.6L1442.5 434.8L1440.9 431.4L1445.3 432.4L1442.1 428.4L1445.9 429.6L1445.0 425.9L1445.8 429.5L1448.5 426.8L1447.7 431.0L1451.1 429.1L1449.4 432.7L1450.8 435.5L1449.7 438.6L1451.4 441.3L1450.4 444.4L1452.1 446.7L1451.2 449.3L1452.6 451.7L1451.7 454.3L1453.0 456.7L1452.8 459.7L1453.0 462.7L1453.1 465.7L1453.3 468.6L1453.4 471.6L1453.6 474.6L1453.7 477.5L1453.8 480.5L1453.8 483.5L1453.9 486.5L1453.9 489.6L1453.9 492.6L1453.9 495.6L1454.0 498.6L1453.9 501.6L1454.0 504.6L1454.0 507.6L1454.1 510.6L1454.1 513.6L1454.2 516.6L1454.1 519.6L1454.7 520.7L1455.4 519.8L1454.1 516.7L1455.9 514.0L1454.6 510.9L1457.3 508.2L1454.8 505.3L1458.2 503.3L1455.1 500.2L1459.4 498.4L1457.3 493.9L1455.8 498.7L1462.0 498.8L1458.2 502.6L1462.3 503.6L1461.0 506.9L1461.7 509.8L1461.5 512.8L1462.2 515.8L1462.0 518.8L1462.7 521.7L1462.1 524.7L1463.8 527.5L1462.9 530.6L1464.5 533.3L1463.7 536.4L1464.2 536.6L1464.9 536.2L1464.9 533.2L1465.5 530.2L1465.3 527.2L1465.8 524.2L1465.9 521.2L1466.4 518.2L1466.2 515.2L1467.3 512.3L1465.7 509.3L1468.6 507.0L1467.0 504.1L1469.8 501.8L1467.0 498.6L1470.2 496.4L1468.2 493.2L1472.9 492.5L1468.7 488.5L1474.3 488.3L1473.6 483.7L1472.5 488.1L1473.4 490.9L1473.0 493.8L1473.9 496.6L1473.4 499.5L1474.4 502.3L1473.9 505.2L1475.0 508.0L1474.6 510.9L1475.3 513.7L1475.0 516.7L1475.8 519.5L1475.5 522.4L1476.5 525.2L1476.0 528.1L1476.7 529.2L1476.8 528.1L1476.9 525.2L1477.1 522.4L1477.2 519.6L1477.4 516.7L1477.5 513.9L1477.7 511.1L1477.8 508.2L1478.0 505.4L1478.1 502.6L1478.3 499.7L1478.4 497.0L1478.7 494.2L1478.7 491.4L1479.0 488.7L1479.0 485.9L1479.3 483.1L1479.4 480.3L1479.6 477.6L1479.3 473.1L1478.3 477.8L1482.4 479.7L1479.6 482.9L1483.8 484.8L1481.3 488.0L1485.0 490.0L1480.9 493.5L1486.5 494.8L1482.2 498.2L1487.9 497.0L1484.0 500.7L1489.0 500.0L1486.0 503.2L1486.2 502.8L1488.9 501.0L1488.1 497.9L1489.4 495.0L1488.9 492.0L1490.1 489.1L1489.3 486.0L1491.1 483.2L1489.8 480.3L1492.7 478.0L1489.7 474.8L1492.6 472.4L1493.3 466.9L1492.3 472.6L1493.0 475.6L1492.8 478.6L1493.6 481.5L1493.3 484.6L1494.1 487.5L1493.7 490.5L1494.3 491.0L1496.4 524.7L1500.5 587.0L1503.6 649.4L1504.8 686.7L1506.9 749.0L1509.1 811.2L1511.6 873.4L1513.5 935.7L1512.3 911.1L1513.9 942.2L1515.4 967.1L1517.0 988.9L1518.5 1004.5L1520.1 1013.8L1521.6 1023.2L1523.8 1010.7L1526.3 1002.9L1528.5 1010.7L1531.0 1016.9L1533.2 1001.4L1535.6 985.8L1538.8 978.0L1541.9 970.2L1544.4 959.4L1546.5 948.5L1548.7 937.6L1551.2 926.7L1553.7 918.9L1555.9 911.1L1558.1 900.2L1560.5 889.3L1562.1 880.0L1563.0 857.9L1566.1 842.3L1567.3 811.2L1568.3 780.1L1569.5 702.3L1570.7 624.5L1572.3 500.0L1571.6 407.8L1572.9 303.9L1576.2 222.9L1577.9 268.6L1578.5 385.4L1579.5 289.7L1580.5 391.7L1581.6 292.3L1582.9 412.1L1584.0 285.6L1585.0 376.4L1586.0 283.4L1587.1 388.6L1588.2 266.2L1589.2 406.1L1590.5 275.5L1591.4 395.9L1592.4 279.5L1593.4 410.7L1594.6 285.1L1595.8 396.1L1597.0 290.0L1598.0 404.1L1599.3 278.9L1600.6 418.6L1601.5 300.5L1602.5 433.5L1603.6 326.0L1604.7 422.3L1606.0 341.4L1607.1 409.8L1608.2 341.1L1609.5 407.8L1610.4 324.3L1611.7 446.1L1613.0 340.0L1614.0 444.9L1615.2 345.0L1616.5 431.3L1617.7 391.8L1618.6 445.6L1620.5 427.9L1620.6 431.6L1620.8 434.6L1621.0 437.7L1621.2 440.7L1621.3 443.7L1621.5 446.8L1621.7 449.8L1621.9 452.8L1622.0 455.8L1622.2 458.9L1622.4 461.9L1622.8 464.3L1622.7 462.1L1622.9 459.2L1623.0 456.3L1623.2 453.4L1623.4 450.5L1623.5 447.6L1623.7 444.7L1623.8 441.8L1624.1 439.0L1624.2 436.0L1624.6 433.0L1624.6 430.0L1625.0 427.1L1625.1 424.1L1625.5 421.2L1625.2 418.1L1627.0 416.1L1625.8 413.5L1628.3 411.7L1626.9 409.0L1629.2 407.1L1627.8 403.6L1628.8 406.4L1631.6 405.8L1630.0 408.7L1633.6 408.2L1632.2 411.1L1634.9 411.7L1634.1 414.6L1634.3 417.3L1634.4 420.0L1634.6 422.6L1634.7 425.3L1634.9 428.0L1635.0 430.7L1635.2 433.3L1635.3 436.0L1635.5 438.7L1635.6 441.3L1635.8 444.0L1635.9 446.7L1636.2 449.3L1636.1 452.0L1636.7 454.7L1636.5 457.4L1637.2 460.0L1637.0 462.7L1637.7 465.4L1637.3 468.1L1638.7 470.5L1638.0 473.1L1639.0 475.5L1638.6 478.1L1639.2 479.2L1640.5 478.2L1639.0 475.4L1641.4 473.2L1639.6 470.3L1642.2 468.2L1641.2 465.7L1642.1 463.4L1641.4 461.0L1644.6 459.2L1641.9 456.5L1645.1 455.8L1642.5 452.7L1646.9 452.6L1644.8 449.5L1645.9 450.7L1649.5 450.1L1646.6 453.5L1650.4 454.9L1648.3 458.1L1651.8 459.2L1648.5 462.8L1654.5 462.9L1651.2 466.3L1653.2 468.6L1653.0 471.3L1653.8 474.0L1653.4 476.7L1654.2 479.3L1653.7 482.0L1654.6 484.7L1654.2 487.5L1655.0 490.2L1654.9 493.0L1655.5 495.7L1655.4 498.5L1656.5 501.2L1654.3 503.0L1657.8 503.5L1655.9 506.4L1658.7 507.9L1657.9 511.2L1658.0 514.3L1658.0 517.4L1658.1 520.5L1658.1 523.6L1658.2 526.8L1658.2 529.9L1658.3 533.0L1658.3 536.1L1658.4 539.2L1658.4 542.3L1658.5 545.5L1658.6 548.4L1658.7 551.3L1658.7 554.2L1658.9 557.1L1658.9 560.0L1659.0 562.9L1659.0 565.8L1659.2 568.7L1659.2 571.6L1660.0 573.4L1660.8 572.1L1658.3 569.1L1661.6 566.9L1660.0 564.0L1663.6 562.6L1660.3 559.6L1664.3 558.4L1661.6 555.5L1664.7 553.7L1662.6 550.7L1665.8 548.8L1663.9 545.9L1666.7 543.9L1664.9 541.0L1667.8 538.9L1665.2 535.7L1669.6 533.9L1667.2 530.7L1670.7 528.7L1668.5 523.3L1668.8 528.1L1670.2 530.3L1669.7 532.8L1670.7 535.0L1670.1 537.7L1671.3 540.2L1670.6 542.9L1671.6 543.7L1672.6 543.1L1670.5 540.2L1673.9 538.2L1671.3 535.2L1674.6 533.1L1673.4 530.0L1674.6 527.1L1673.8 524.0L1675.1 521.2L1674.5 518.1L1675.8 515.2L1674.4 512.1L1677.8 510.1L1674.7 507.1L1677.9 505.1L1675.6 502.2L1679.1 500.3L1680.0 495.4L1678.1 500.6L1678.4 503.5L1678.5 506.5L1678.8 509.4L1678.8 512.4L1679.1 515.3L1679.2 518.3L1679.5 521.2L1679.5 524.2L1679.8 527.1L1679.9 530.0L1680.2 533.0L1680.2 535.9L1680.6 538.7L1680.6 541.6L1681.1 544.5L1681.0 547.4L1681.5 550.2L1681.4 553.1L1682.0 556.0L1681.9 558.9L1682.3 561.7L1682.2 564.6L1682.7 567.5L1683.4 573.3L1682.9 567.4L1683.1 564.5L1683.1 561.6L1683.3 558.6L1683.4 555.7L1683.6 552.7L1683.6 549.8L1683.8 546.8L1683.9 543.9L1684.1 541.0L1684.1 538.0L1684.3 535.1L1684.4 532.0L1684.6 529.0L1684.7 526.0L1684.9 523.0L1685.0 520.0L1685.2 516.9L1685.3 513.9L1685.5 510.9L1685.6 507.9L1685.8 504.8L1685.0 500.8L1684.5 504.7L1688.8 506.3L1685.2 509.6L1689.3 511.2L1686.1 514.4L1689.6 514.4L1692.3 515.2L1689.3 511.7L1692.6 510.6L1690.4 507.4L1695.3 506.8L1691.8 503.2L1696.5 502.6L1693.7 498.8L1697.3 500.1L1695.6 496.7L1698.8 498.3L1696.5 494.3L1697.7 496.9L1701.9 497.7L1699.2 500.8L1701.8 502.9L1699.3 505.9L1701.5 505.3L1703.6 524.7L1706.7 566.2L1708.8 607.8L1710.9 649.4L1711.1 686.7L1713.9 749.0L1716.4 811.2L1718.6 873.4L1720.1 904.6L1721.7 935.7L1723.2 951.2L1722.4 951.6L1723.9 973.4L1727.0 984.3L1730.2 992.0L1733.3 998.3L1735.4 995.1L1737.9 992.0L1741.0 982.7L1744.2 973.4L1747.3 967.1L1750.4 960.9L1752.9 951.6L1755.0 942.2L1757.2 951.6L1757.8 932.9L1758.2 917.3L1759.7 906.5L1761.3 895.6L1762.8 880.0L1762.1 873.4L1764.6 842.3L1766.8 811.2L1768.0 780.1L1769.3 749.0L1770.2 686.7L1770.8 624.5L1772.1 500.0L1770.7 407.8L1772.4 324.7L1775.3 234.3L1777.4 283.1L1777.5 386.8L1778.4 294.9L1779.6 386.1L1780.5 310.5L1781.8 388.4L1783.0 303.1L1783.9 377.9L1785.0 288.2L1786.3 394.7L1787.2 286.9L1788.2 392.4L1789.3 270.6L1790.6 395.3L1791.5 291.6L1792.7 372.8L1793.9 305.0L1794.9 382.1L1796.2 304.7L1797.4 385.0L1798.6 312.4L1799.8 394.6L1800.8 337.7L1801.7 417.8L1802.8 338.9L1803.8 404.9L1805.1 346.8L1806.4 398.1L1807.6 337.5L1808.6 411.0L1809.7 346.5L1810.6 426.6L1811.9 351.0L1813.1 433.3L1814.1 360.5L1815.3 413.0L1816.3 358.7L1817.5 431.2L1818.7 402.4L1819.7 443.6L1821.0 411.5L1821.9 440.1L1823.1 417.7L1824.2 437.7L1825.4 417.9L1826.5 438.1L1827.6 419.7L1828.6 444.0L1829.8 424.3L1831.1 442.1L1834.5 448.8L1834.6 452.1L1835.1 454.9L1835.1 457.7L1835.7 460.4L1835.7 463.2L1836.4 466.0L1836.3 468.9L1836.9 471.8L1836.8 474.7L1837.5 477.6L1837.4 480.5L1838.1 483.2L1837.8 485.9L1838.7 488.5L1838.5 491.2L1839.4 493.8L1839.2 496.6L1839.9 499.2L1839.8 502.0L1840.4 504.8L1840.3 507.6L1840.9 510.4L1840.8 513.2L1841.4 516.0L1841.3 518.8L1841.9 520.4L1842.1 518.8L1842.1 516.1L1842.5 513.4L1842.5 510.6L1842.9 507.9L1842.9 505.2L1843.3 502.5L1843.1 499.7L1844.2 497.0L1843.6 494.1L1844.9 491.5L1844.2 488.6L1845.5 486.0L1844.3 483.0L1846.4 480.9L1844.8 478.3L1847.7 476.5L1845.7 473.7L1848.0 472.9L1850.0 472.9L1847.4 475.7L1850.6 476.7L1848.0 479.7L1851.8 479.5L1850.5 482.3L1853.1 482.8L1851.7 485.7L1853.8 488.0L1852.6 490.7L1854.4 493.0L1853.4 495.6L1854.7 498.0L1853.9 500.6L1855.1 503.0L1854.2 505.7L1856.0 508.0L1855.1 510.6L1856.7 512.9L1855.7 515.6L1857.6 517.9L1856.0 520.6L1857.8 522.9L1857.0 525.6L1858.2 528.0L1857.2 530.6L1858.5 533.0L1858.4 536.0L1858.6 539.1L1858.6 542.1L1858.7 545.2L1858.7 548.2L1858.8 551.3L1858.8 554.4L1858.9 557.4L1858.9 560.5L1859.1 563.5L1859.1 566.6L1859.2 569.6L1859.2 572.7L1859.3 575.7L1859.3 578.8L1861.0 580.4L1859.6 579.0L1859.7 576.2L1859.9 573.4L1860.0 570.6L1860.2 567.8L1860.3 565.0L1860.5 562.2L1860.6 559.4L1860.8 556.6L1860.8 553.8L1861.3 551.1L1861.0 548.4L1861.8 545.8L1861.6 543.1L1862.3 540.4L1862.0 537.7L1864.2 536.6L1865.8 535.4L1862.5 539.0L1867.3 538.5L1863.2 542.8L1868.6 540.7L1865.5 544.7L1870.3 542.7L1868.4 546.7L1868.9 543.0L1872.0 546.6L1870.8 541.8L1872.8 545.1L1875.4 541.9L1873.5 547.0L1876.9 543.0L1877.1 548.1L1878.1 542.9L1880.9 546.2L1879.2 542.5L1880.4 539.6L1879.8 536.5L1880.7 533.6L1880.1 530.6L1881.4 527.7L1880.7 524.6L1882.8 522.4L1880.9 519.6L1883.5 517.6L1881.3 514.7L1885.0 512.8L1885.2 508.5L1883.8 513.1L1884.1 516.0L1884.2 519.0L1884.5 521.9L1884.5 524.9L1884.8 527.8L1884.9 530.7L1885.2 533.7L1885.2 536.6L1885.5 539.6L1885.6 542.5L1885.9 545.5L1886.0 548.5L1886.3 551.5L1886.3 554.6L1886.6 557.6L1886.6 560.7L1887.0 563.7L1887.0 566.8L1887.3 569.8L1887.4 572.9L1887.7 575.9L1887.7 579.0L1888.1 582.0L1888.1 585.1L1888.4 588.1L1887.0 593.0L1888.6 588.4L1888.9 585.6L1888.9 582.9L1889.2 580.1L1889.3 577.3L1889.6 574.5L1889.6 571.8L1889.9 569.0L1889.9 566.2L1890.4 563.3L1890.3 560.3L1890.9 557.3L1890.7 554.3L1891.4 551.4L1891.2 548.4L1894.2 546.0L1890.3 542.8L1895.3 543.4L1892.7 540.2L1896.7 540.2L1892.9 536.3L1897.8 536.8L1895.6 533.8L1896.8 535.7L1900.2 534.6L1897.3 537.5L1900.7 538.9L1897.4 542.2L1901.9 542.1L1899.7 544.9L1902.0 543.6"/>
<path id="red" stroke="#ff0000" d="M309.4 185.0L309.5 300.0L309.8 440.0L310.3 500.0L311.8 546.7L314.0 593.4L317.1 624.5L320.2 643.2L323.0 651.9L325.8 654.4L328.9 651.2L332.1 643.2L337.3 624.5L342.6 593.4L346.7 562.2L349.2 531.1L351.3 500.0L354.4 449.4L357.8 366.2L360.3 283.1L361.9 231.2L361.8 201.9L362.5 164.5L363.1 127.2L363.8 99.8L367.0 72.9L367.1 77.9L367.3 80.8L367.3 83.8L367.5 86.8L367.6 89.8L367.8 92.8L367.8 95.8L368.0 98.8L368.1 101.8L368.3 104.8L368.3 107.6L368.5 110.4L368.6 113.2L368.8 116.0L368.8 118.8L369.0 121.6L369.1 124.4L368.6 125.7L369.4 124.3L369.5 121.4L369.6 118.5L369.7 115.5L369.9 112.6L369.0 109.0L370.0 112.2L370.5 114.7L370.4 117.2L368.9 118.1L370.9 116.9L371.0 114.0L371.1 111.2L371.2 108.3L371.4 105.5L371.5 102.6L370.4 101.1L371.7 102.8L371.8 105.9L371.9 108.9L372.0 112.0L372.1 115.0L372.2 118.0L372.3 121.1L372.4 124.1L373.5 126.4L373.3 124.7L372.6 122.1L372.0 121.2L373.6 122.6L373.6 125.5L373.7 128.4L373.7 131.3L373.8 134.2L373.9 137.1L374.0 140.0L374.0 142.9L372.8 144.1L374.2 142.8L374.2 139.8L374.3 136.8L374.4 133.8L374.5 130.8L374.5 127.8L374.6 124.8L374.6 121.8L374.8 118.8L374.8 115.8L374.9 112.7L374.9 109.7L375.1 106.8L375.2 103.9L375.4 101.0L375.4 98.1L375.6 95.2L375.7 92.3L376.0 89.6L376.0 86.8L376.3 84.1L376.3 81.3L374.7 80.1L376.7 81.7L376.8 84.8L377.0 87.9L377.0 91.1L377.2 94.2L377.2 97.3L377.4 100.4L377.4 103.5L377.6 106.6L377.7 109.7L377.9 112.6L377.9 115.6L378.1 118.5L378.2 121.4L378.4 124.3L378.4 127.2L378.6 130.2L378.7 133.2L378.9 136.1L379.0 139.1L379.2 140.1L379.4 139.1L379.4 136.1L379.6 133.2L379.7 130.2L379.6 128.6L379.9 130.2L379.9 133.2L380.0 136.2L380.0 139.2L380.0 142.3L380.0 145.3L380.1 148.3L380.1 151.3L380.2 154.3L380.2 157.3L380.3 160.4L380.3 163.4L380.7 165.3L380.4 163.4L380.5 160.5L380.6 157.5L380.7 154.5L380.8 151.5L380.9 148.6L381.0 145.6L381.1 142.6L381.2 139.6L381.2 137.1L381.8 134.7L381.7 132.1L382.2 129.7L382.1 127.2L382.6 124.7L382.4 122.2L382.9 119.7L382.8 117.2L383.8 114.8L382.6 112.1L384.7 109.9L385.2 106.5L384.5 110.3L384.7 113.3L384.7 116.4L384.9 119.4L385.0 122.5L385.1 125.5L385.2 128.6L385.4 131.6L385.4 134.6L385.6 137.7L385.6 140.7L385.8 143.8L385.8 146.8L386.0 149.9L386.1 152.9L386.2 156.0L386.3 159.0L388.4 161.0L386.8 159.6L386.7 157.1L387.1 154.6L388.4 151.4L387.2 155.0L387.4 158.0L387.4 161.0L387.5 163.9L387.5 166.9L387.7 169.8L387.7 172.8L387.8 175.7L387.8 178.7L388.0 181.7L388.0 184.6L388.1 187.6L388.2 190.5L388.3 193.5L388.3 196.4L388.8 198.1L388.5 196.5L388.6 193.6L388.7 190.7L388.7 187.8L388.9 184.9L388.9 182.0L389.0 179.1L389.1 176.2L389.2 173.3L389.2 170.3L389.4 167.4L389.4 164.5L389.6 161.6L389.7 158.7L390.0 155.8L390.0 152.9L390.3 150.0L390.2 147.1L391.1 144.3L390.6 141.3L391.6 138.5L391.3 135.6L392.5 133.7L394.2 134.6L391.2 137.8L395.6 138.0L395.7 140.6L397.1 136.5L394.4 141.0L397.8 142.1L396.4 145.1L399.2 144.4L397.5 147.5L402.0 146.1L398.9 149.5L401.7 151.2L399.3 154.0L402.8 155.6L400.6 158.6L403.4 160.6L401.2 163.6L405.5 165.2L401.9 168.3L406.9 168.7L403.8 171.9L406.8 172.7L406.0 175.0L408.6 171.9L406.8 175.3L409.9 176.4L408.2 179.1L410.8 180.8L408.7 183.7L413.1 184.0L409.2 187.4L411.1 186.2L414.4 186.4L412.0 183.5L415.5 181.9L412.9 179.0L416.1 177.3L414.2 174.5L417.6 173.0L415.0 170.0L418.2 168.4L415.9 164.1L416.3 168.2L420.6 167.0L420.1 171.1L418.5 167.0L423.5 167.4L420.1 164.0L420.5 164.6L422.8 166.2L422.9 169.2L423.1 172.1L423.2 175.1L423.4 178.0L423.5 180.9L423.7 183.9L423.7 186.8L423.9 189.8L424.0 192.7L424.2 195.7L424.2 198.6L424.3 201.6L424.4 204.6L424.5 207.6L424.5 210.6L424.7 213.6L424.7 216.5L424.8 219.5L424.9 222.5L425.0 225.5L425.0 228.5L425.2 231.4L425.2 234.4L425.2 235.9L425.5 234.4L425.6 231.4L425.8 228.4L425.9 225.4L426.1 222.4L426.2 219.4L426.4 216.4L426.5 213.4L426.6 210.4L426.7 207.4L426.9 204.4L427.0 201.4L427.2 198.4L427.3 195.4L427.5 192.4L427.6 189.4L428.2 186.5L428.0 183.4L428.5 180.5L428.5 177.5L429.0 174.5L429.0 171.5L429.6 168.5L429.5 165.5L430.1 162.6L428.1 158.3L429.1 161.7L433.3 162.2L429.6 165.5L433.6 165.1L432.3 167.2L433.4 169.9L433.5 172.8L433.7 175.7L433.7 178.6L433.9 181.6L434.0 184.5L434.2 187.4L434.2 190.3L434.4 193.2L434.5 196.1L434.7 199.0L434.7 201.9L434.9 204.8L435.0 207.7L435.2 210.6L435.3 213.5L435.5 216.4L435.6 219.3L435.8 222.2L435.9 225.1L435.7 225.5L436.4 225.1L436.4 222.1L436.8 219.1L436.9 216.2L437.3 213.2L437.2 210.2L437.7 207.3L437.7 204.3L438.1 201.3L438.1 198.3L438.5 195.4L438.6 192.4L439.0 189.5L438.8 186.4L439.6 183.5L439.3 180.5L440.1 177.6L440.0 174.5L440.8 171.6L440.6 168.6L441.3 165.7L441.3 161.4L441.5 165.6L441.7 168.6L441.7 171.6L441.9 174.6L442.0 177.5L442.2 180.5L442.3 183.5L442.5 186.5L442.6 189.4L442.7 192.4L442.7 195.4L442.8 198.4L442.8 201.4L442.9 204.4L442.9 207.4L443.0 210.4L443.1 213.4L443.2 216.3L441.9 221.5L443.3 216.5L443.7 213.6L443.7 210.8L444.0 207.9L444.1 205.1L444.3 202.3L444.7 197.0L444.1 202.4L445.5 205.2L445.3 208.1L445.7 211.1L445.8 214.2L446.0 217.2L446.1 220.3L446.3 223.3L446.4 226.3L446.7 229.3L446.8 232.4L447.0 235.4L447.2 239.7L447.2 235.4L447.3 232.4L447.3 229.3L447.4 226.3L447.4 223.2L447.6 220.2L447.6 217.1L447.7 214.1L447.7 211.0L447.8 208.0L447.8 204.9L448.0 201.9L447.9 199.4L449.1 197.0L448.1 194.3L449.6 192.0L450.7 187.4L449.5 192.2L449.9 195.0L449.9 197.9L450.2 200.6L450.3 203.5L450.6 206.2L450.7 209.1L451.0 211.9L450.8 214.8L450.8 217.8L450.6 220.8L450.6 223.7L450.5 226.7L450.4 229.7L450.3 232.6L450.2 235.6L450.1 238.6L450.1 241.6L449.8 244.5L451.0 247.3L450.5 250.3L451.8 253.0L451.3 256.0L452.3 258.8L451.7 261.8L452.8 264.6L453.1 268.9L452.9 264.5L453.2 261.5L453.2 258.4L453.6 255.4L453.6 252.4L453.9 249.4L454.0 246.3L454.3 243.3L454.4 240.3L454.7 237.2L454.7 234.2L455.1 231.2L455.1 228.2L455.7 225.2L455.6 222.2L456.2 219.2L456.1 216.1L456.8 213.2L456.6 210.1L457.2 207.2L456.4 202.1L457.3 207.0L458.4 209.6L457.9 212.5L458.7 215.2L458.2 218.1L459.0 219.4L460.0 241.6L462.1 283.1L464.2 345.5L466.2 407.8L467.5 470.1L468.1 500.0L469.9 562.2L472.1 624.5L474.6 686.7L477.4 749.0L482.1 811.2L486.7 845.4L491.4 873.4L497.6 904.6L502.9 926.4L507.0 935.7L511.6 924.8L517.8 904.6L525.6 873.4L531.8 842.3L538.1 811.2L547.4 749.0L553.6 686.7L559.9 624.5L563.6 562.2L565.5 500.0L566.6 407.8L568.1 303.9L569.5 231.2L568.9 228.4L568.9 226.9L568.9 223.8L569.0 220.8L568.9 217.8L569.0 214.8L569.0 211.8L569.1 208.7L569.0 205.7L569.1 202.7L569.0 199.7L569.1 196.7L569.1 193.7L569.2 190.6L569.1 187.6L569.2 184.6L569.2 181.6L569.3 178.6L569.2 175.5L569.3 172.5L569.2 169.5L569.3 166.5L569.4 163.6L569.5 160.6L569.5 157.7L569.6 154.8L569.6 151.9L569.8 148.9L569.8 146.0L569.9 143.1L570.0 140.1L570.1 137.2L568.9 134.1L573.1 133.5L569.6 130.2L573.8 129.9L575.2 126.1L572.8 130.4L572.9 133.3L572.9 136.2L573.0 139.1L573.0 142.0L573.1 144.9L573.1 147.8L573.2 150.7L573.2 153.6L573.4 156.5L573.4 159.4L573.5 162.3L573.5 165.5L573.6 168.6L573.6 171.7L573.7 174.8L573.7 177.9L573.9 181.0L573.9 184.2L574.0 187.3L574.0 190.4L574.1 193.5L574.1 196.4L574.2 199.3L574.2 202.2L574.3 205.0L574.3 207.9L574.5 210.8L574.5 213.7L574.6 216.6L574.6 219.5L574.7 222.5L574.7 225.5L574.8 228.4L574.8 231.4L574.9 234.4L574.9 237.4L575.0 240.4L576.7 245.1L575.1 240.3L575.2 237.1L575.2 234.0L575.3 230.9L575.4 227.8L575.5 224.7L575.5 221.6L575.6 218.4L575.7 215.3L575.8 212.2L575.8 207.1L575.9 212.2L576.1 215.3L576.1 218.4L576.3 221.6L576.3 224.7L576.5 227.3L576.6 229.9L576.8 232.5L576.8 235.1L577.1 237.7L577.1 240.4L577.4 243.1L577.4 245.8L577.7 248.4L577.7 251.1L576.8 253.0L578.0 250.8L578.0 247.8L578.1 244.8L578.1 241.8L578.3 238.8L578.3 235.8L578.4 232.9L578.4 229.9L578.5 227.0L578.5 224.1L578.6 221.2L578.6 218.3L578.8 215.4L578.8 212.6L578.9 209.7L578.9 206.8L579.0 203.9L579.0 201.0L579.2 198.2L579.2 195.3L579.4 192.5L579.4 189.6L579.6 186.8L579.7 183.9L579.8 181.0L579.9 178.2L578.8 177.0L580.2 178.4L580.2 181.4L580.5 184.4L580.5 187.4L580.7 190.5L580.8 193.5L581.2 196.1L581.1 198.7L581.5 201.3L581.6 205.3L581.7 201.3L582.2 198.7L582.0 196.1L583.2 193.6L580.8 191.1L581.8 191.0L583.3 191.8L583.4 194.3L583.6 196.8L583.6 199.3L584.0 201.8L584.0 204.6L584.4 207.3L582.7 211.4L583.8 207.9L585.9 206.1L583.8 203.0L583.6 204.8L586.4 207.0L586.4 210.1L586.6 213.2L586.6 216.4L586.8 219.5L586.8 222.6L587.0 225.7L587.0 228.8L587.2 231.9L587.2 235.1L587.3 238.1L587.3 241.2L587.4 244.3L587.4 247.4L587.5 250.5L587.5 253.6L587.6 256.6L587.6 259.7L587.7 262.8L587.7 265.9L587.8 269.0L587.8 272.0L587.9 275.1L587.8 278.2L587.9 281.3L587.9 284.4L588.0 287.4L588.0 290.5L588.1 293.6L588.1 296.7L588.2 299.8L588.2 305.3L591.5 253.8L592.7 243.0L593.8 250.5L595.1 239.9L596.3 252.0L597.4 240.0L598.6 251.5L599.9 244.2L601.1 256.4L602.1 246.6L603.2 259.1L604.6 246.8L606.1 259.7L607.4 250.7L608.4 261.2L609.5 251.5L610.5 267.1L611.7 251.4L612.8 264.5L614.3 255.9L615.3 269.9L616.3 256.7L617.9 285.8L617.7 290.3L618.9 293.3L618.3 296.4L619.7 299.3L619.1 302.4L620.3 305.3L619.6 308.4L620.7 311.3L620.3 314.4L621.7 315.2L621.4 314.6L621.3 311.7L621.9 308.8L621.8 306.0L622.3 303.1L622.3 300.3L622.8 297.4L622.6 294.5L623.3 291.7L623.1 288.8L623.7 286.0L623.6 283.1L624.2 280.3L624.1 277.4L624.7 274.6L624.5 271.7L625.2 268.9L625.0 266.0L625.6 263.1L625.5 260.2L626.2 257.4L625.9 254.5L626.7 251.7L627.2 246.9L626.8 251.8L627.1 254.8L627.1 257.8L627.4 260.7L627.5 263.7L627.8 266.7L627.8 269.7L628.2 272.7L628.2 275.6L628.5 278.6L628.5 281.6L628.9 284.6L628.9 287.6L629.2 290.5L629.2 293.5L629.6 296.3L629.6 299.2L630.0 302.0L630.0 304.8L630.4 307.7L630.4 310.5L630.8 313.3L630.7 316.2L631.2 319.0L631.1 321.8L631.7 324.7L631.4 327.6L632.2 330.4L631.8 333.3L632.9 336.1L632.5 339.0L633.2 341.8L632.9 344.7L632.5 344.9L633.8 344.5L633.8 341.5L634.3 338.4L634.2 335.4L634.6 332.4L634.7 329.3L635.1 326.3L635.1 323.2L635.5 320.2L635.5 317.2L635.9 314.1L635.9 311.1L636.3 308.1L636.3 305.1L636.8 302.1L636.8 299.2L637.2 296.2L637.2 293.3L637.7 290.3L637.6 287.3L638.1 284.4L638.1 281.4L638.6 278.5L638.5 275.5L639.1 272.6L639.3 268.1L639.1 272.6L640.0 275.6L639.6 278.7L640.5 281.6L640.1 284.7L641.1 287.7L640.8 290.7L641.5 293.7L641.3 296.7L642.8 299.6L641.1 302.7L644.4 305.0L641.4 308.3L645.4 310.5L642.8 313.8L645.3 316.2L643.8 319.0L646.4 321.2L644.2 324.1L647.8 326.1L646.6 331.7L645.4 326.1L649.3 324.2L646.3 321.1L649.6 319.1L650.4 314.3L648.8 319.4L649.3 322.4L649.2 325.4L649.8 328.4L649.7 331.5L650.1 334.5L650.1 337.5L650.6 340.5L650.6 343.6L651.1 346.6L650.5 351.6L651.3 346.7L651.5 343.8L651.6 340.9L651.8 338.0L651.9 335.1L652.1 332.2L652.2 329.3L652.4 326.5L652.5 323.6L652.7 320.7L652.8 317.8L653.0 314.9L653.1 312.0L652.8 311.1L654.2 312.0L653.6 315.1L654.7 318.0L653.9 321.1L655.5 324.0L654.8 327.0L655.9 330.0L655.5 333.0L656.0 335.8L656.0 338.5L656.4 341.3L656.4 344.1L656.8 346.8L656.7 349.6L657.2 352.4L657.1 355.2L657.6 357.9L657.0 360.7L658.4 363.2L657.6 366.0L659.2 368.5L658.5 371.3L659.6 373.9L660.1 377.8L659.6 373.7L659.9 370.7L660.0 367.8L660.3 364.9L660.3 361.9L660.6 359.0L660.6 356.0L660.9 353.1L661.0 350.1L661.3 347.2L661.3 344.2L661.6 341.3L661.7 338.3L662.1 335.3L662.1 332.3L662.5 329.3L662.5 326.2L662.9 323.2L662.9 320.2L663.3 317.2L663.3 314.2L664.1 312.3L664.0 314.0L663.9 316.9L664.4 319.7L664.3 322.6L664.8 325.4L664.7 328.3L665.2 331.2L665.2 334.0L665.7 336.9L665.6 339.7L666.0 342.6L666.1 347.5L667.8 376.6L670.9 449.4L673.4 522.1L674.7 562.2L676.6 624.5L678.1 686.7L679.7 749.0L681.5 811.2L683.4 873.4L685.3 904.6L687.5 935.7L689.6 954.4L689.6 964.0L691.1 973.4L692.7 982.7L694.9 973.4L697.3 967.1L700.5 979.6L703.6 992.0L706.1 998.3L709.2 987.4L714.5 973.4L722.2 942.2L730.0 911.1L736.2 880.0L741.9 842.3L746.6 811.2L750.6 780.1L754.4 749.0L758.1 717.8L760.6 702.3L762.8 677.4L764.3 649.4L765.6 686.7L766.8 655.6L768.1 699.2L769.0 630.7L769.3 562.2L769.6 500.0L770.3 467.8L771.2 322.3L771.6 224.5L772.2 170.0L775.0 116.3L776.3 162.2L777.0 454.3L778.3 240.0L779.2 199.6L780.1 255.6L781.1 202.7L782.0 271.2L782.9 177.8L784.8 122.6L786.1 193.4L786.7 278.9L787.3 151.3L787.4 341.0L788.7 218.4L789.9 303.7L790.8 259.0L792.0 308.0L793.0 272.7L794.1 296.9L795.2 276.6L796.1 296.2L797.4 283.1L800.3 286.3L800.6 289.3L802.4 291.0L802.0 293.5L803.8 295.2L803.7 297.5L805.2 299.3L804.9 301.7L806.4 303.5L805.9 305.8L807.0 308.6L807.0 311.5L807.5 314.4L807.6 317.4L808.3 320.2L808.3 323.2L808.8 326.1L808.9 329.0L809.4 331.9L809.4 334.8L810.0 337.6L810.0 340.4L810.7 343.1L810.6 345.9L811.3 348.6L811.2 351.5L811.9 354.2L811.8 357.0L812.5 359.1L813.0 357.2L812.6 354.5L814.0 352.0L813.3 349.3L814.5 346.8L814.2 344.1L815.2 341.6L815.0 338.9L815.9 336.1L815.5 333.1L816.6 330.3L816.3 327.3L817.2 324.5L817.0 321.5L817.8 318.6L817.7 315.7L818.5 312.8L818.0 309.8L819.8 307.7L818.5 304.8L821.0 303.0L821.6 299.2L821.0 303.3L821.9 306.0L821.7 308.7L822.8 311.4L822.1 314.2L823.3 316.8L822.8 319.7L823.7 322.3L823.7 325.4L823.9 328.4L824.0 331.5L824.3 334.5L824.4 337.6L824.6 340.6L824.7 343.7L825.0 346.7L825.1 349.8L825.4 352.8L825.5 355.9L825.7 358.9L825.8 362.0L826.1 365.0L826.1 368.1L826.7 371.0L826.6 373.9L827.3 376.8L827.1 379.8L827.9 382.7L827.7 385.6L828.4 388.5L828.2 391.5L829.1 394.4L828.8 397.4L829.0 398.6L829.8 397.2L829.7 394.2L830.4 391.2L830.2 388.1L830.9 385.1L830.8 382.1L831.3 379.1L831.2 376.0L831.8 373.0L831.7 369.9L832.5 366.9L832.3 363.9L832.7 360.9L832.8 357.8L833.1 354.8L833.2 351.8L833.4 348.8L833.6 345.8L833.9 342.7L833.9 339.7L834.2 336.7L834.3 333.7L834.9 330.7L833.4 328.1L836.4 326.3L834.4 323.5L837.7 321.8L837.6 318.2L836.6 322.2L837.8 325.1L837.2 328.2L838.5 331.1L837.9 334.2L839.2 337.1L838.5 340.2L839.5 343.1L839.4 346.0L839.8 348.9L839.8 351.8L840.2 354.6L840.2 357.5L840.6 360.4L840.6 363.3L840.9 366.1L841.0 369.0L841.3 371.9L841.4 374.8L841.7 377.6L841.3 380.6L843.6 383.1L841.9 386.3L843.7 388.9L842.2 392.0L845.3 394.4L843.5 397.6L845.2 399.2L846.3 397.8L844.2 394.7L847.8 392.7L845.3 389.5L849.2 387.6L846.8 384.5L849.2 382.0L848.3 379.1L849.6 376.4L848.9 373.5L850.5 370.9L848.8 367.8L852.2 365.8L849.8 362.6L853.0 360.5L852.6 356.5L852.3 360.5L852.7 363.3L852.7 366.2L853.1 369.0L853.0 371.8L853.4 374.7L853.5 377.5L853.8 380.3L853.8 383.2L854.2 386.0L853.4 389.9L852.9 386.0L854.5 385.7L855.9 387.7L855.9 390.8L856.1 393.8L856.2 396.9L856.3 399.9L856.4 403.0L856.6 406.0L856.6 409.1L856.8 412.1L856.8 415.2L857.0 418.2L857.1 421.2L857.2 424.3L857.3 427.3L858.2 429.2L857.6 427.5L857.7 424.6L857.9 421.8L858.0 418.9L858.2 416.0L858.3 413.1L858.6 410.3L858.7 407.4L858.9 404.5L859.0 401.6L859.2 398.7L859.3 395.9L859.7 393.0L859.4 390.1L860.5 387.4L860.0 384.5L861.2 381.8L860.5 378.8L861.7 376.1L861.8 372.3L861.7 376.2L862.2 379.1L862.1 382.0L862.7 384.9L862.5 387.9L863.1 390.8L863.0 393.8L863.6 396.7L863.4 399.6L864.0 402.5L863.9 405.5L864.6 408.3L864.4 411.2L865.2 414.0L864.8 416.9L865.8 419.7L865.6 422.6L866.2 425.4L866.3 429.9L866.4 425.5L866.8 422.6L866.9 419.8L867.2 417.0L867.2 414.1L867.6 411.3L867.6 408.5L867.9 405.6L868.0 402.8L868.3 400.0L868.3 397.1L869.2 394.4L868.7 391.5L869.6 388.7L869.3 385.8L870.4 383.1L869.8 380.2L871.2 379.1L871.9 379.8L870.4 382.6L872.7 384.8L870.9 387.6L872.9 389.9L872.0 392.6L873.0 393.3L875.1 426.2L877.1 467.8L878.8 499.8L879.9 577.8L882.4 661.8L884.9 749.0L887.4 842.3L889.9 920.1L889.4 911.1L890.3 942.2L891.2 979.6L892.2 1010.7L893.4 1041.8L896.5 1029.4L899.6 1020.0L902.1 1026.3L904.3 1032.5L907.4 1016.9L911.5 1001.4L915.2 988.9L919.9 978.0L924.5 967.1L929.2 946.9L933.9 926.7L934.7 917.0L944.0 873.4L948.7 842.3L953.4 811.2L959.0 780.1L963.6 749.0L965.2 730.3L966.7 711.6L967.7 745.9L968.9 702.3L969.2 593.4L969.5 500.0L969.8 426.2L970.6 322.3L970.9 240.0L971.8 193.4L974.5 160.7L975.7 208.9L976.0 330.4L977.2 210.8L979.0 509.4L979.8 195.3L980.9 316.4L982.0 217.5L983.0 339.8L984.0 204.7L985.1 363.2L986.1 196.3L987.3 329.6L988.3 217.5L988.3 401.3L990.2 208.4L991.4 367.1L992.4 261.6L993.9 395.1L995.0 264.4L996.2 369.5L997.5 325.4L1000.8 386.9L1002.2 385.7L1001.3 383.0L1003.1 381.1L1002.7 378.5L1004.5 376.5L1004.0 373.4L1004.6 370.6L1004.7 367.6L1005.4 364.8L1005.3 361.8L1006.0 358.9L1005.9 356.0L1006.6 353.1L1006.4 350.2L1007.8 347.4L1006.9 345.1L1009.1 343.7L1008.1 341.1L1010.7 339.9L1009.6 337.3L1012.0 336.0L1011.4 332.8L1011.8 335.5L1013.9 336.0L1013.0 338.2L1015.3 338.7L1014.3 341.4L1017.3 342.7L1015.4 345.6L1018.0 347.2L1017.6 350.3L1017.9 353.4L1018.0 356.4L1018.3 359.5L1018.4 362.5L1018.7 365.6L1018.8 368.6L1019.1 371.6L1019.2 374.7L1019.5 377.7L1019.6 380.8L1020.0 383.8L1020.0 386.9L1020.4 389.9L1020.5 393.0L1020.7 396.0L1020.8 399.0L1021.0 402.1L1021.1 405.1L1021.3 408.1L1021.4 411.1L1021.6 414.1L1021.7 417.2L1021.9 420.2L1022.0 423.2L1022.3 426.2L1021.7 428.9L1023.8 431.3L1022.4 434.1L1022.8 435.2L1024.3 433.7L1023.9 430.6L1024.8 427.6L1024.4 424.6L1025.5 421.7L1025.0 418.6L1026.2 415.7L1025.6 412.6L1026.7 409.6L1026.2 406.8L1027.4 404.1L1026.8 401.3L1027.8 398.6L1027.2 395.7L1028.4 393.0L1028.0 390.2L1029.1 387.5L1028.7 384.6L1029.7 382.0L1029.1 379.1L1030.8 376.5L1029.2 373.5L1031.5 371.1L1030.0 368.2L1032.8 365.9L1030.7 362.8L1033.5 360.5L1033.1 356.6L1032.5 360.7L1033.4 363.6L1033.2 366.7L1033.9 369.6L1033.7 372.7L1034.4 375.7L1034.3 378.7L1035.0 381.7L1035.0 384.7L1035.2 387.7L1035.3 390.8L1035.5 393.8L1035.6 396.9L1035.8 399.9L1035.9 403.0L1036.1 406.0L1036.1 409.1L1036.3 412.1L1036.4 415.2L1036.6 418.2L1036.7 421.2L1036.9 424.3L1037.0 427.3L1037.6 430.3L1035.6 433.2L1039.4 435.1L1037.1 438.1L1039.9 440.2L1039.9 444.8L1038.1 439.9L1041.4 437.5L1039.5 434.4L1042.5 432.0L1040.5 428.9L1043.5 426.8L1040.4 423.5L1040.8 425.8L1044.3 427.0L1043.7 430.0L1045.1 432.8L1044.1 435.9L1046.1 438.5L1044.0 441.4L1044.5 440.6L1047.1 439.9L1046.8 436.9L1047.7 434.0L1047.1 430.9L1048.3 428.1L1047.8 425.0L1049.2 422.1L1048.5 419.1L1049.8 416.3L1049.1 413.3L1050.7 410.5L1049.7 405.4L1050.1 410.3L1051.3 413.0L1050.5 415.9L1051.6 418.6L1051.3 421.4L1052.3 424.1L1051.8 427.0L1052.9 429.7L1052.3 432.5L1053.6 435.3L1052.8 438.3L1054.2 441.1L1053.4 444.2L1055.0 446.9L1052.8 449.5L1056.2 450.9L1053.6 453.6L1054.7 454.2L1056.2 452.7L1056.1 450.0L1056.5 447.3L1056.5 444.6L1056.8 442.0L1056.8 439.3L1057.4 436.6L1056.8 433.8L1058.2 431.1L1058.2 425.9L1058.0 431.1L1058.4 434.0L1058.4 436.8L1058.8 439.6L1058.8 442.5L1059.2 445.3L1059.2 448.2L1059.5 451.0L1059.5 453.8L1059.9 456.6L1059.9 459.5L1060.4 462.3L1060.3 465.2L1060.7 468.0L1060.7 470.9L1061.2 473.8L1061.1 476.6L1061.5 479.5L1062.5 484.2L1061.8 479.3L1062.1 476.3L1062.2 473.2L1062.5 470.2L1062.5 467.1L1062.9 464.1L1062.9 461.1L1063.3 458.0L1063.3 455.0L1063.6 452.0L1063.7 448.9L1064.1 445.9L1063.9 442.8L1064.9 440.1L1064.3 437.3L1065.6 434.6L1064.8 431.7L1065.8 429.0L1064.6 426.0L1067.8 424.2L1064.7 421.1L1069.8 419.7L1068.8 415.9L1068.0 419.9L1068.5 422.9L1068.4 425.9L1068.9 428.9L1068.8 432.0L1069.3 435.0L1069.2 438.0L1069.7 441.0L1069.6 444.0L1070.2 447.0L1070.1 449.9L1070.6 452.7L1070.5 455.6L1071.0 458.4L1070.9 461.3L1071.7 464.1L1071.4 467.0L1070.9 467.3L1072.2 466.9L1072.1 463.8L1072.6 460.8L1072.6 457.8L1073.0 454.8L1073.0 451.7L1073.4 448.7L1073.4 445.7L1073.8 442.7L1073.8 439.6L1074.7 436.7L1073.7 434.0L1076.8 431.9L1074.1 428.9L1076.9 426.7L1074.4 423.7L1077.4 421.6L1078.4 416.6L1076.7 422.0L1078.2 424.8L1077.4 427.9L1079.4 430.6L1078.3 433.7L1079.1 434.8L1080.8 467.8L1082.4 499.8L1085.6 577.8L1088.7 661.8L1091.8 749.0L1095.0 857.9L1097.1 935.7L1096.3 942.2L1097.9 973.4L1099.4 1004.5L1101.3 1020.0L1103.5 1032.5L1106.0 1049.6L1108.1 1062.1L1110.3 1046.5L1112.8 1029.4L1116.9 1015.4L1120.6 1004.5L1125.3 988.9L1129.9 973.4L1134.6 950.0L1139.3 926.7L1140.1 920.1L1149.4 873.4L1154.1 854.8L1157.2 842.3L1158.8 823.7L1160.0 811.2L1160.9 845.4L1161.9 795.6L1162.5 749.0L1163.7 686.7L1165.0 624.5L1166.5 500.0L1166.4 441.6L1166.6 398.6L1168.1 273.9L1171.2 192.9L1172.6 340.4L1173.7 238.6L1174.9 554.8L1175.9 234.4L1177.0 357.0L1178.0 230.3L1179.1 348.7L1180.1 224.0L1181.1 340.4L1182.6 190.8L1184.1 253.1L1185.0 356.4L1185.9 258.0L1186.1 429.7L1187.9 251.6L1189.0 372.5L1190.1 254.6L1191.0 360.9L1192.2 257.5L1193.6 438.1L1194.5 268.4L1195.6 345.4L1196.5 295.1L1197.5 371.6L1198.4 309.4L1199.2 409.0L1200.8 323.5L1201.8 367.4L1202.7 329.7L1203.7 370.6L1204.8 348.5L1205.9 379.5L1207.5 379.0L1207.6 382.5L1208.7 385.0L1208.1 387.7L1209.2 390.2L1209.1 392.9L1209.5 395.6L1209.6 398.3L1210.0 400.9L1210.0 403.6L1210.5 406.3L1210.6 409.0L1210.8 411.9L1210.9 414.9L1211.1 417.9L1211.3 420.9L1211.4 423.9L1211.6 426.9L1211.8 429.9L1211.9 432.9L1212.1 435.8L1212.2 438.8L1212.4 441.8L1212.5 444.8L1212.7 447.8L1212.8 450.8L1213.0 453.8L1213.0 456.8L1213.8 459.4L1213.5 462.1L1214.4 464.7L1213.9 467.5L1215.1 470.1L1214.5 472.8L1214.9 473.7L1215.9 472.7L1215.5 469.9L1216.5 467.2L1216.1 464.3L1217.1 461.6L1216.6 458.8L1217.8 456.1L1217.3 453.3L1218.3 450.6L1217.6 447.7L1219.1 445.2L1218.3 442.3L1219.7 439.8L1219.2 437.0L1220.2 434.4L1219.7 431.6L1220.8 429.0L1220.4 426.2L1221.6 423.6L1220.5 420.7L1223.2 418.4L1221.0 415.3L1224.3 413.1L1222.1 410.0L1224.3 407.6L1223.0 404.5L1225.9 403.4L1223.6 400.3L1227.9 399.9L1228.6 395.9L1227.1 400.3L1228.5 402.9L1227.5 405.8L1229.1 408.4L1228.5 411.2L1229.8 413.8L1229.0 416.7L1230.1 419.3L1229.9 422.3L1230.2 425.3L1230.2 428.3L1230.6 431.2L1230.7 434.2L1231.0 437.2L1231.0 440.1L1231.4 443.1L1231.4 446.1L1231.8 449.0L1231.8 452.0L1232.2 455.0L1232.2 457.9L1233.2 460.8L1231.9 463.9L1234.2 466.4L1232.6 469.6L1235.8 471.9L1232.8 475.3L1236.1 477.7L1234.5 482.9L1234.6 477.9L1239.5 476.8L1235.5 473.3L1240.4 472.1L1236.1 468.4L1241.6 467.9L1238.3 464.3L1242.2 463.4L1240.4 460.2L1244.7 461.4L1241.2 457.2L1246.1 459.2L1243.7 456.3L1247.7 454.7L1243.6 451.2L1249.0 449.8L1244.9 446.3L1247.9 446.8L1249.7 446.3L1247.0 449.4L1250.5 451.1L1247.6 454.2L1251.7 455.8L1248.4 459.0L1252.7 460.5L1250.3 463.6L1254.1 464.6L1251.8 467.8L1256.8 468.4L1252.4 472.3L1258.2 473.4L1255.0 476.8L1258.7 478.6L1256.2 481.7L1258.2 484.1L1256.5 486.9L1259.2 489.2L1257.7 492.0L1260.0 494.4L1258.3 497.3L1258.3 497.9L1259.9 496.8L1259.8 493.8L1260.3 490.8L1260.2 487.8L1260.8 484.9L1260.7 481.9L1261.3 479.0L1261.1 476.2L1261.8 473.4L1261.7 470.6L1262.3 467.9L1262.0 465.1L1262.2 464.9L1262.9 465.2L1262.9 468.0L1263.3 470.8L1263.2 473.7L1263.7 476.5L1263.6 479.3L1264.0 482.2L1264.0 485.0L1264.4 487.8L1264.4 490.7L1264.8 493.5L1264.7 496.3L1265.4 499.0L1265.1 501.8L1265.8 504.6L1265.5 507.4L1266.3 510.1L1266.1 512.9L1266.8 515.6L1267.7 520.9L1266.9 515.5L1267.3 512.6L1267.2 509.6L1267.7 506.7L1267.6 503.7L1268.1 500.8L1268.1 497.8L1268.6 494.9L1268.5 491.9L1269.0 489.0L1269.0 486.1L1269.6 483.2L1268.7 480.3L1270.8 477.9L1269.1 475.0L1271.2 472.5L1270.3 469.7L1271.9 467.2L1270.0 464.1L1274.9 463.6L1271.2 460.3L1275.4 459.6L1275.9 454.6L1273.1 460.0L1276.4 462.1L1274.0 465.2L1277.1 467.3L1275.0 470.4L1278.5 472.4L1276.4 475.6L1278.3 478.2L1276.4 481.3L1279.8 483.6L1277.7 486.8L1278.5 487.3L1279.6 486.4L1279.5 483.3L1280.1 480.4L1280.0 477.3L1280.6 474.4L1280.5 471.3L1281.0 468.4L1281.0 465.3L1281.8 462.4L1281.3 459.4L1282.6 456.6L1281.7 453.5L1283.1 450.8L1283.2 444.7L1282.6 450.8L1284.2 453.7L1283.4 456.8L1284.9 459.6L1284.0 462.7L1286.2 465.5L1285.5 471.7L1287.5 503.9L1289.6 566.2L1292.7 649.4L1294.1 668.1L1297.2 749.0L1300.4 857.9L1302.5 935.7L1301.3 904.9L1302.2 942.2L1303.8 973.4L1305.4 1004.5L1306.9 1023.2L1308.5 1035.6L1311.0 1049.6L1313.1 1057.4L1315.6 1049.6L1317.8 1041.8L1320.9 1032.5L1324.0 1023.2L1327.1 1013.8L1330.2 1004.5L1334.0 988.9L1338.0 973.4L1342.1 954.7L1345.8 936.0L1348.9 925.1L1352.0 914.2L1353.0 898.7L1353.9 917.3L1353.3 845.4L1353.9 889.0L1354.8 842.3L1356.1 795.6L1357.0 749.0L1357.9 686.7L1358.9 624.5L1360.4 500.0L1360.3 398.6L1361.5 315.5L1366.5 224.0L1367.7 357.0L1368.8 257.3L1369.6 377.8L1370.6 502.9L1371.5 259.4L1372.5 367.4L1373.6 257.3L1374.6 336.2L1375.6 273.9L1377.9 217.8L1379.4 294.7L1379.5 378.9L1380.5 259.7L1381.0 456.8L1382.9 275.0L1383.8 374.8L1385.0 260.0L1386.0 370.2L1387.1 283.4L1388.0 389.7L1389.0 287.5L1390.4 416.2L1391.5 298.5L1392.7 407.7L1393.7 315.4L1394.9 405.7L1395.8 321.1L1396.8 417.7L1398.0 333.1L1398.1 466.1L1400.2 344.5L1401.3 439.0L1402.4 359.0L1403.3 427.9L1404.2 363.8L1405.5 446.5L1406.4 389.7L1408.1 479.6L1408.4 429.1L1412.2 455.7L1413.7 454.6L1412.8 452.0L1414.8 450.0L1413.3 447.2L1415.3 445.2L1414.3 442.5L1416.9 440.6L1415.7 437.8L1418.5 436.8L1417.1 434.0L1419.7 433.0L1419.9 429.6L1418.9 433.3L1421.7 435.0L1420.2 437.7L1422.6 439.6L1421.4 442.2L1423.4 444.1L1422.1 446.8L1424.1 448.9L1423.1 451.6L1425.6 453.6L1424.1 456.3L1426.2 458.4L1425.4 460.9L1426.0 463.8L1426.0 466.8L1426.3 469.7L1426.4 472.6L1426.7 475.6L1426.8 478.5L1427.1 481.4L1427.1 484.3L1427.4 487.3L1427.5 490.3L1427.7 493.3L1427.8 496.3L1428.0 499.3L1428.2 502.3L1428.4 505.3L1428.5 508.3L1428.7 511.3L1428.2 515.5L1428.9 511.5L1429.8 508.8L1429.2 505.9L1430.4 503.2L1429.7 500.4L1431.4 497.8L1429.7 494.7L1432.6 492.3L1432.6 487.3L1432.1 492.4L1432.6 495.3L1432.5 498.4L1433.0 501.3L1432.9 504.4L1433.5 507.3L1433.5 510.4L1434.0 513.3L1432.6 518.5L1432.8 513.5L1436.2 511.6L1434.5 508.6L1438.0 506.8L1434.4 503.2L1439.4 503.1L1435.5 499.8L1440.8 500.1L1436.6 497.0L1440.8 495.4L1438.1 492.5L1442.4 490.7L1439.8 487.8L1442.5 485.7L1440.5 482.9L1443.8 480.9L1441.0 477.8L1443.7 475.7L1441.6 472.8L1444.8 470.7L1442.2 467.7L1443.3 467.2L1444.8 468.4L1444.7 471.4L1445.4 474.3L1445.1 477.2L1445.9 480.2L1445.6 483.1L1446.6 485.8L1446.1 488.7L1447.4 491.4L1446.5 494.3L1447.7 496.9L1445.9 500.9L1445.5 497.0L1450.4 497.7L1451.2 494.4L1448.8 498.5L1451.4 501.0L1449.4 504.1L1452.4 506.5L1450.4 509.6L1451.0 508.7L1453.9 509.6L1450.7 506.1L1454.4 503.7L1451.6 500.3L1455.3 498.4L1456.0 496.8L1452.9 501.3L1458.6 499.0L1455.5 502.6L1456.9 505.2L1456.3 508.1L1457.4 510.8L1456.8 513.6L1458.2 516.3L1457.4 519.3L1458.8 522.1L1457.8 525.1L1459.2 527.9L1459.5 534.1L1458.9 527.9L1459.6 524.9L1459.5 521.9L1460.2 518.9L1459.9 515.9L1460.6 512.9L1460.4 509.9L1461.0 506.9L1460.8 500.1L1461.1 506.9L1461.9 509.8L1461.5 512.8L1462.3 515.7L1461.9 518.8L1462.8 521.7L1462.3 524.7L1464.1 527.3L1462.5 530.3L1464.3 532.9L1463.2 535.8L1464.8 538.5L1465.5 544.4L1464.7 538.4L1465.0 535.5L1465.0 532.6L1465.3 529.7L1465.4 526.8L1465.6 523.8L1465.7 520.9L1466.0 518.0L1466.0 515.1L1466.3 512.2L1466.3 509.2L1466.8 506.2L1466.7 503.2L1467.2 500.3L1467.2 497.3L1467.6 494.3L1467.6 491.3L1467.5 492.1L1468.2 491.3L1468.2 494.4L1468.5 497.4L1468.5 500.4L1468.8 503.5L1468.8 506.5L1469.2 509.5L1469.2 512.6L1469.6 515.6L1469.5 518.6L1469.8 521.6L1469.9 524.7L1470.2 527.5L1470.2 530.4L1470.5 533.3L1470.5 536.2L1470.8 539.1L1470.9 541.9L1471.1 544.8L1471.2 547.7L1471.5 550.6L1471.5 553.5L1471.8 556.3L1471.8 559.2L1471.1 560.3L1472.2 559.1L1472.2 556.0L1472.4 553.0L1472.4 550.0L1472.7 547.0L1472.7 543.9L1472.9 540.9L1472.9 537.9L1473.1 534.9L1473.1 531.9L1473.3 528.8L1473.4 526.0L1473.7 523.1L1473.7 520.3L1474.0 517.4L1474.0 514.5L1474.3 511.7L1474.3 508.8L1475.3 507.7L1477.1 508.2L1473.3 511.5L1477.6 513.5L1474.7 516.6L1478.5 518.7L1475.6 521.7L1478.3 524.0L1478.8 529.5L1477.5 523.9L1478.6 521.1L1478.1 518.1L1479.1 515.4L1478.7 512.4L1479.7 509.7L1478.9 506.7L1480.4 504.0L1479.0 501.1L1481.4 498.7L1479.9 495.8L1481.7 493.3L1480.3 490.4L1482.1 487.9L1481.5 482.8L1480.7 488.0L1483.4 490.3L1480.9 493.3L1485.5 495.3L1481.9 498.5L1486.1 500.5L1483.0 503.6L1484.6 503.2L1485.7 503.4L1484.8 500.6L1486.4 498.0L1485.4 495.2L1487.3 492.7L1485.7 489.8L1487.7 487.4L1486.4 484.2L1489.5 481.7L1486.3 478.3L1490.2 475.9L1489.3 469.7L1488.6 475.8L1490.1 478.6L1489.7 481.7L1490.8 484.5L1490.0 487.6L1491.3 490.5L1491.2 496.9L1493.2 524.7L1496.4 587.0L1499.5 649.4L1501.0 686.7L1502.9 749.0L1504.8 811.2L1506.9 873.4L1508.5 920.1L1508.3 942.2L1509.5 973.4L1510.7 1004.5L1512.3 1020.0L1513.9 1035.6L1515.7 1051.2L1517.9 1066.7L1519.5 1079.2L1521.0 1087.9L1522.6 1076.1L1524.8 1060.5L1528.8 1048.1L1532.5 1035.6L1535.6 1023.2L1538.8 1010.7L1541.9 998.3L1544.4 987.4L1545.9 970.2L1547.2 942.2L1547.8 911.1L1548.1 880.0L1548.3 842.3L1549.6 764.5L1550.8 686.7L1552.4 593.4L1553.6 500.0L1554.0 366.2L1556.1 303.9L1560.6 257.1L1562.9 345.5L1565.4 460.8L1567.9 345.5L1570.6 244.7L1572.3 324.7L1576.8 570.4L1578.3 308.1L1579.5 274.8L1581.2 345.5L1582.4 543.4L1583.5 438.9L1584.6 335.2L1585.7 437.1L1586.8 330.5L1588.0 433.4L1589.2 341.0L1590.2 452.6L1591.4 360.1L1592.0 493.5L1593.6 365.9L1594.8 447.9L1595.7 370.2L1596.6 446.1L1597.6 366.3L1598.7 438.3L1599.9 371.8L1601.1 439.7L1602.2 370.5L1603.2 428.1L1604.6 369.0L1605.9 506.0L1606.7 351.1L1607.6 435.9L1608.7 362.3L1610.1 487.3L1611.0 369.5L1612.0 450.7L1613.1 413.2L1614.1 483.2L1615.3 441.6L1616.3 490.0L1617.3 455.6L1619.4 515.6L1619.5 519.1L1620.4 521.7L1620.0 524.4L1620.9 527.0L1620.7 529.7L1621.4 532.4L1620.8 535.2L1622.8 537.4L1621.8 540.1L1623.6 542.4L1622.3 545.2L1623.6 545.9L1625.1 545.3L1623.9 542.3L1626.3 540.3L1624.8 537.2L1628.2 535.4L1626.1 532.2L1628.2 529.8L1627.2 526.9L1629.1 524.5L1628.2 521.6L1630.3 519.2L1628.9 516.1L1631.8 514.7L1630.2 511.8L1633.6 510.7L1631.0 507.4L1634.6 506.3L1632.3 503.5L1636.0 502.2L1633.8 499.4L1636.9 498.0L1634.2 494.9L1638.9 493.6L1635.4 490.3L1640.2 489.1L1639.1 484.0L1638.0 488.9L1640.2 491.1L1638.5 494.0L1641.3 496.1L1639.0 499.1L1642.4 501.1L1640.0 504.1L1642.7 506.5L1641.0 509.6L1643.2 512.1L1641.6 515.1L1643.8 517.6L1642.7 520.6L1643.9 523.4L1643.6 526.4L1644.3 529.3L1644.1 532.3L1644.8 535.2L1644.0 540.6L1643.4 535.1L1647.6 533.1L1644.1 529.6L1649.2 527.8L1646.0 521.5L1645.0 528.0L1650.4 528.3L1647.6 531.7L1650.6 529.8L1653.5 531.5L1649.0 528.2L1654.1 527.2L1653.8 522.4L1650.4 527.8L1656.2 529.4L1651.3 533.1L1658.0 534.3L1651.8 538.0L1659.2 538.4L1652.8 542.2L1655.7 539.6L1660.3 541.6L1655.7 538.2L1660.2 536.6L1656.5 533.5L1661.8 532.0L1656.3 528.5L1660.8 530.2L1663.3 527.9L1659.5 531.5L1661.7 530.9L1664.1 531.0L1661.2 528.0L1665.0 526.4L1661.7 523.3L1662.8 523.4L1665.3 524.5L1664.8 527.6L1665.5 530.5L1665.1 533.5L1666.3 536.4L1665.7 539.5L1666.7 542.4L1666.3 545.5L1667.1 548.2L1666.8 551.1L1667.5 553.9L1667.1 556.7L1668.1 559.4L1667.6 562.3L1668.4 565.1L1668.1 567.9L1668.8 570.7L1670.0 577.0L1668.8 570.5L1670.2 567.6L1669.3 564.5L1671.1 561.7L1669.5 558.5L1671.4 555.7L1670.1 552.5L1672.7 549.8L1670.7 546.5L1674.2 544.1L1670.6 540.6L1674.2 538.1L1674.0 531.6L1673.5 538.1L1674.1 541.1L1673.9 544.1L1674.5 547.1L1674.3 550.1L1675.1 553.1L1674.9 556.1L1675.5 559.1L1675.4 562.1L1676.0 565.0L1675.7 568.0L1676.6 571.0L1676.1 574.0L1677.0 576.9L1676.7 579.9L1676.7 578.8L1677.7 579.9L1677.4 576.8L1678.1 573.8L1677.8 570.7L1678.5 567.8L1678.4 564.7L1678.9 561.7L1678.8 558.7L1679.5 555.7L1679.2 552.6L1679.8 549.6L1679.6 546.8L1680.4 544.1L1680.0 541.3L1681.0 538.6L1680.4 535.7L1681.5 533.0L1680.9 530.2L1681.8 527.5L1680.1 524.4L1684.6 522.6L1680.8 519.3L1684.9 517.5L1680.6 514.1L1686.7 512.8L1682.9 509.6L1687.4 508.6L1684.0 505.5L1688.1 504.3L1689.1 498.8L1686.5 504.6L1688.2 507.1L1687.2 509.9L1688.8 512.4L1687.6 515.3L1689.6 517.8L1688.7 520.6L1689.6 523.3L1689.0 526.1L1690.2 528.8L1689.6 531.6L1690.6 534.3L1690.5 539.8L1690.6 534.4L1691.0 531.6L1691.0 528.8L1691.3 526.1L1691.3 523.3L1691.8 520.5L1691.6 517.7L1692.1 515.0L1691.7 512.2L1693.4 509.7L1691.7 506.9L1694.6 504.6L1692.5 501.7L1695.1 499.4L1695.0 494.5L1693.8 499.5L1695.3 502.2L1694.5 505.1L1696.1 507.8L1695.2 510.8L1696.7 513.5L1696.3 520.2L1698.4 545.5L1701.5 607.8L1704.6 670.1L1707.7 749.0L1710.2 811.2L1712.3 873.4L1713.9 920.1L1712.4 904.9L1713.7 942.2L1714.9 973.4L1716.1 1004.5L1717.4 1020.0L1718.6 1035.6L1720.2 1051.2L1721.7 1066.7L1723.9 1085.4L1726.1 1079.2L1728.6 1072.9L1731.7 1063.6L1734.8 1054.3L1736.4 1029.4L1737.3 1004.5L1738.2 973.4L1738.9 942.2L1739.5 911.1L1740.1 880.0L1740.3 873.4L1741.3 811.2L1741.9 749.0L1743.1 686.7L1744.1 624.5L1746.0 500.0L1746.2 407.8L1748.3 324.7L1753.5 287.3L1755.7 366.2L1758.2 450.4L1760.3 366.2L1762.8 271.7L1764.9 303.9L1767.0 345.5L1769.0 418.2L1771.5 366.2L1774.2 331.9L1776.3 387.0L1778.4 530.9L1779.5 463.9L1780.7 373.9L1781.9 471.6L1782.9 367.1L1784.0 588.1L1784.8 375.8L1785.8 476.1L1786.9 383.9L1788.8 508.1L1789.0 377.3L1790.3 459.7L1791.5 394.4L1792.7 454.4L1794.0 398.5L1795.2 465.3L1796.4 412.9L1797.5 464.2L1798.6 407.6L1799.5 454.9L1800.7 410.8L1801.9 461.9L1803.1 395.8L1804.3 466.3L1805.3 390.6L1806.4 506.0L1807.4 389.1L1808.5 483.0L1809.6 383.7L1810.6 538.2L1811.6 388.7L1812.8 470.3L1813.8 407.8L1815.1 508.2L1816.1 452.7L1817.3 509.7L1817.9 528.2L1817.5 531.3L1820.6 532.5L1819.4 535.4L1821.7 536.9L1820.8 539.5L1822.6 541.5L1821.8 544.1L1823.8 546.0L1822.3 548.7L1823.7 549.9L1824.9 548.0L1824.0 545.1L1826.1 542.6L1825.2 539.7L1826.6 537.1L1825.5 534.2L1827.4 531.6L1826.3 528.7L1828.7 526.5L1827.0 523.7L1829.1 521.4L1827.7 518.7L1830.9 516.7L1828.6 513.7L1831.8 512.0L1829.5 508.9L1831.8 509.3L1834.6 508.7L1832.0 512.0L1835.7 513.5L1832.9 516.9L1837.6 517.6L1833.7 521.4L1838.5 522.0L1835.5 525.2L1838.9 527.3L1837.8 530.3L1839.3 532.9L1838.0 535.9L1839.9 538.5L1838.2 541.6L1842.4 542.8L1839.3 545.9L1843.9 546.8L1840.8 550.0L1844.9 551.0L1841.4 554.2L1845.4 554.7L1842.3 557.9L1848.1 557.6L1843.6 561.4L1846.5 560.4L1849.8 560.7L1846.8 557.4L1851.6 556.7L1847.2 553.0L1853.3 552.6L1849.4 549.1L1853.3 548.1L1852.2 543.9L1849.6 548.3L1855.7 549.0L1852.1 552.1L1857.1 552.8L1852.7 556.3L1857.8 555.4L1855.5 561.2L1854.5 554.9L1860.0 557.5L1856.8 553.4L1857.2 555.0L1860.4 556.6L1859.6 559.6L1860.9 562.4L1859.9 565.5L1862.0 568.2L1860.5 571.3L1862.3 574.1L1861.5 577.1L1863.2 579.8L1861.1 585.0L1861.1 580.1L1866.1 578.6L1860.9 575.2L1865.8 573.6L1863.3 570.7L1866.9 568.9L1866.8 562.0L1864.4 569.1L1867.5 571.3L1864.9 574.3L1868.9 576.4L1866.5 579.4L1869.1 581.7L1866.9 584.6L1872.0 586.4L1866.8 589.7L1873.6 590.3L1867.9 593.8L1873.0 594.8L1869.8 597.7L1873.6 599.8L1870.9 603.0L1874.9 605.1L1871.0 608.5L1872.9 609.1L1873.9 608.1L1873.5 605.2L1874.3 602.4L1874.0 599.5L1874.6 596.6L1874.4 593.7L1875.2 590.9L1875.0 588.0L1875.7 585.2L1875.3 582.3L1876.0 579.5L1875.8 576.6L1876.7 573.7L1876.1 570.7L1877.3 567.8L1876.8 564.8L1877.8 561.9L1877.2 558.9L1878.2 556.0L1877.7 553.0L1878.8 550.2L1878.2 547.1L1879.2 544.3L1879.3 539.3L1879.3 544.3L1879.5 547.2L1879.6 550.2L1879.8 553.2L1879.9 556.1L1880.1 559.1L1880.2 562.1L1880.4 565.0L1880.4 568.0L1880.7 571.0L1880.8 574.0L1881.0 576.9L1881.0 579.9L1881.8 581.0L1881.5 580.0L1881.5 577.1L1881.8 574.2L1881.8 571.3L1882.1 568.5L1882.1 565.6L1882.4 562.7L1882.4 559.8L1882.8 557.0L1882.8 554.1L1883.1 551.2L1883.1 548.3L1883.9 545.5L1882.4 542.5L1885.1 540.0L1883.5 537.0L1885.4 534.5L1883.7 531.4L1886.5 532.0L1887.2 531.1L1884.9 534.0L1889.5 535.8L1884.4 539.3L1888.8 541.1L1886.3 544.2L1891.7 545.9L1886.7 549.5L1889.2 547.7L1890.2 549.1L1889.7 546.3L1890.8 543.7L1890.2 541.0L1891.3 538.4L1890.5 535.6L1891.7 533.0L1890.0 529.9L1893.6 527.5L1891.5 524.3L1894.6 524.1L1895.3 523.4L1891.8 526.4L1896.6 527.9L1891.3 531.2L1898.3 532.1L1891.9 536.3L1898.8 536.3L1898.3 542.4L1894.8 536.2L1899.2 534.3L1895.8 531.1L1901.0 529.4L1895.4 525.4L1899.9 527.4L1902.5 526.3L1898.5 529.3L1902.5 530.6L1898.8 534.0L1902.5 531.9L1902.5 538.5"/>
</g>
<!--/CURVES-->
<!-- legend -->
<rect x="307.3" y="1100.5" width="1088.6" height="172.2" fill="#262626"/><rect x="311.2" y="1104.5" width="1080.9" height="163.9" fill="#fff"/>
<rect x="329" y="1146.9" width="212.1" height="4.2" fill="#0000ff"/>
<rect x="329" y="1221.8" width="212.1" height="4.2" fill="#ff0000"/>
<text class="leg" x="555.6" y="1170.9">Range independent environment</text>
<text class="leg" x="555.6" y="1245.9">Range dependent environment</text>
<!-- tick labels -->
<g id="ticklabels">
<text class="tick" transform="translate(180.95 79.35) scale(1.0 1.025)">80</text>
<text class="tick" transform="translate(180.95 283.20) scale(1.0 1.025)">90</text>
<text class="tick" transform="translate(134.62 487.05) scale(1.0 1.025)"><tspan dx="2.20">1</tspan><tspan dx="-2.20">0</tspan>0</text><rect x="140.16" y="479.67" width="17.25" height="9.78" fill="#fff"/><rect x="165.48" y="479.67" width="16.95" height="9.78" fill="#fff"/>
<text class="tick" transform="translate(134.62 690.90) scale(1.0 1.025)"><tspan dx="2.20">1</tspan>1<tspan dx="-2.20">0</tspan></text><rect x="140.16" y="683.52" width="17.25" height="9.78" fill="#fff"/><rect x="165.48" y="683.52" width="16.95" height="9.78" fill="#fff"/><rect x="186.49" y="683.52" width="17.25" height="9.78" fill="#fff"/><rect x="211.80" y="683.52" width="16.95" height="9.78" fill="#fff"/>
<text class="tick" transform="translate(134.62 894.80) scale(1.0 1.025)"><tspan dx="2.20">1</tspan><tspan dx="-2.20">2</tspan>0</text><rect x="140.16" y="887.42" width="17.25" height="9.78" fill="#fff"/><rect x="165.48" y="887.42" width="16.95" height="9.78" fill="#fff"/>
<text class="tick" transform="translate(134.62 1098.60) scale(1.0 1.025)"><tspan dx="2.20">1</tspan><tspan dx="-2.20">3</tspan>0</text><rect x="140.16" y="1091.22" width="17.25" height="9.78" fill="#fff"/><rect x="165.48" y="1091.22" width="16.95" height="9.78" fill="#fff"/>
<text class="tick" transform="translate(134.62 1302.50) scale(1.0 1.025)"><tspan dx="2.20">1</tspan><tspan dx="-2.20">4</tspan>0</text><rect x="140.16" y="1295.12" width="17.25" height="9.78" fill="#fff"/><rect x="165.48" y="1295.12" width="16.95" height="9.78" fill="#fff"/>
<text class="tick" transform="translate(282.94 1388.20) scale(1.0 1.025)">0</text>
<text class="tick" transform="translate(590.61 1388.20) scale(1.0 1.025)"><tspan dx="2.20">1</tspan><tspan dx="-2.20">0</tspan>0</text><rect x="596.15" y="1380.82" width="17.25" height="9.78" fill="#fff"/><rect x="621.47" y="1380.82" width="16.95" height="9.78" fill="#fff"/>
<text class="tick" transform="translate(944.61 1388.20) scale(1.0 1.025)">200</text>
<text class="tick" transform="translate(1298.61 1388.20) scale(1.0 1.025)">300</text>
<text class="tick" transform="translate(1652.61 1388.20) scale(1.0 1.025)">400</text>
</g>
<text class="lab" text-anchor="middle" x="1102.8" y="1511.6">Range/km</text>
<text class="lab" style="font-size:91.8px" text-anchor="middle" transform="translate(91.3 663.7) rotate(-90)">Transmission loss/dB</text>
</svg>
</body>
</html>
